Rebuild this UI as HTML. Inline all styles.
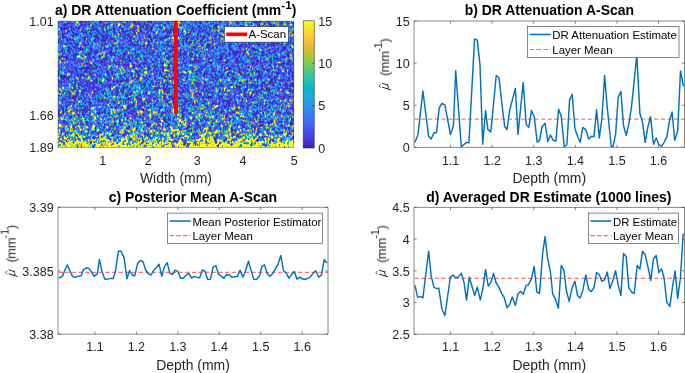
<!DOCTYPE html>
<html><head><meta charset="utf-8"><style>
html,body{margin:0;padding:0;background:#fff;width:685px;height:373px;overflow:hidden}
#hmw{position:absolute;left:58px;top:21px;width:236px;height:127px;overflow:hidden;background:linear-gradient(to bottom,rgb(67,108,211) 0.0%,rgb(67,106,212) 6.3%,rgb(66,105,212) 12.7%,rgb(65,105,214) 19.0%,rgb(64,104,214) 25.4%,rgb(66,104,213) 31.7%,rgb(67,105,211) 38.1%,rgb(68,106,210) 44.4%,rgb(68,107,209) 50.8%,rgb(68,107,211) 57.1%,rgb(70,111,208) 63.5%,rgb(71,117,205) 69.8%,rgb(73,123,201) 76.2%,rgb(78,124,199) 82.5%,rgb(96,146,172) 88.9%,rgb(101,150,168) 89.7%,rgb(108,157,160) 90.5%,rgb(96,155,172) 91.3%,rgb(103,152,166) 92.1%,rgb(116,158,155) 92.9%,rgb(122,170,144) 93.7%,rgb(126,172,140) 94.4%,rgb(136,180,128) 95.2%,rgb(163,193,102) 96.0%,rgb(162,198,103) 96.8%,rgb(184,207,82) 97.6%,rgb(186,211,77) 98.4%,rgb(206,225,60) 99.2%,rgb(238,243,31) 100.0%)}
#hm{position:absolute;left:-2px;top:-2px;width:240px;height:131px;filter:blur(0.35px)}
svg{position:absolute;left:0;top:0}
text{font-family:"Liberation Sans",sans-serif;filter:blur(0.25px)}
</style></head><body>
<div id="hmw"><canvas id="hm" width="240" height="131"></canvas></div>
<svg width="685" height="373">
<defs>
<linearGradient id="parula" x1="0" y1="1" x2="0" y2="0"><stop offset="0.0000" stop-color="rgb(62,38,168)"/><stop offset="0.0159" stop-color="rgb(64,42,180)"/><stop offset="0.0317" stop-color="rgb(66,46,192)"/><stop offset="0.0476" stop-color="rgb(67,50,203)"/><stop offset="0.0635" stop-color="rgb(69,55,213)"/><stop offset="0.0794" stop-color="rgb(70,60,222)"/><stop offset="0.0952" stop-color="rgb(71,65,229)"/><stop offset="0.1111" stop-color="rgb(71,71,235)"/><stop offset="0.1270" stop-color="rgb(72,77,240)"/><stop offset="0.1429" stop-color="rgb(72,82,244)"/><stop offset="0.1587" stop-color="rgb(71,88,248)"/><stop offset="0.1746" stop-color="rgb(70,94,251)"/><stop offset="0.1905" stop-color="rgb(69,99,253)"/><stop offset="0.2063" stop-color="rgb(66,105,254)"/><stop offset="0.2222" stop-color="rgb(62,111,255)"/><stop offset="0.2381" stop-color="rgb(56,117,254)"/><stop offset="0.2540" stop-color="rgb(50,124,252)"/><stop offset="0.2698" stop-color="rgb(47,129,250)"/><stop offset="0.2857" stop-color="rgb(46,135,247)"/><stop offset="0.3016" stop-color="rgb(45,140,243)"/><stop offset="0.3175" stop-color="rgb(43,145,239)"/><stop offset="0.3333" stop-color="rgb(39,151,235)"/><stop offset="0.3492" stop-color="rgb(37,155,232)"/><stop offset="0.3651" stop-color="rgb(35,160,229)"/><stop offset="0.3810" stop-color="rgb(32,165,227)"/><stop offset="0.3968" stop-color="rgb(28,169,223)"/><stop offset="0.4127" stop-color="rgb(24,173,219)"/><stop offset="0.4286" stop-color="rgb(18,177,214)"/><stop offset="0.4444" stop-color="rgb(8,181,208)"/><stop offset="0.4603" stop-color="rgb(1,184,202)"/><stop offset="0.4762" stop-color="rgb(2,186,195)"/><stop offset="0.4921" stop-color="rgb(11,189,189)"/><stop offset="0.5079" stop-color="rgb(25,191,182)"/><stop offset="0.5238" stop-color="rgb(36,193,174)"/><stop offset="0.5397" stop-color="rgb(44,196,167)"/><stop offset="0.5556" stop-color="rgb(49,198,159)"/><stop offset="0.5714" stop-color="rgb(55,200,151)"/><stop offset="0.5873" stop-color="rgb(63,202,142)"/><stop offset="0.6032" stop-color="rgb(74,203,132)"/><stop offset="0.6190" stop-color="rgb(87,204,122)"/><stop offset="0.6349" stop-color="rgb(100,205,111)"/><stop offset="0.6508" stop-color="rgb(114,205,100)"/><stop offset="0.6667" stop-color="rgb(129,204,89)"/><stop offset="0.6825" stop-color="rgb(143,203,78)"/><stop offset="0.6984" stop-color="rgb(157,201,67)"/><stop offset="0.7143" stop-color="rgb(171,199,57)"/><stop offset="0.7302" stop-color="rgb(185,196,49)"/><stop offset="0.7460" stop-color="rgb(197,194,42)"/><stop offset="0.7619" stop-color="rgb(209,191,39)"/><stop offset="0.7778" stop-color="rgb(220,189,41)"/><stop offset="0.7937" stop-color="rgb(230,187,45)"/><stop offset="0.8095" stop-color="rgb(240,186,54)"/><stop offset="0.8254" stop-color="rgb(248,186,61)"/><stop offset="0.8413" stop-color="rgb(254,190,60)"/><stop offset="0.8571" stop-color="rgb(254,195,56)"/><stop offset="0.8730" stop-color="rgb(254,201,52)"/><stop offset="0.8889" stop-color="rgb(252,207,48)"/><stop offset="0.9048" stop-color="rgb(250,214,45)"/><stop offset="0.9206" stop-color="rgb(247,220,42)"/><stop offset="0.9365" stop-color="rgb(245,227,39)"/><stop offset="0.9524" stop-color="rgb(245,233,36)"/><stop offset="0.9683" stop-color="rgb(246,239,32)"/><stop offset="0.9841" stop-color="rgb(247,245,27)"/><stop offset="1.0000" stop-color="rgb(249,251,21)"/></linearGradient>
<clipPath id="cb"><rect x="414.0" y="21.0" width="270.5" height="126.4"/></clipPath>
<clipPath id="cc"><rect x="58.0" y="207.3" width="270.0" height="126.89999999999998"/></clipPath>
<clipPath id="cd"><rect x="414.0" y="207.4" width="270.5" height="126.79999999999998"/></clipPath>
</defs>
<rect x="174" y="20.8" width="3.7" height="93.2" fill="#ff0000"/>
<path d="M57.9 21.1H293.7V147.39999999999998H57.9Z" fill="none" stroke="#262626" stroke-opacity="0.55" stroke-width="0.6"/>
<rect x="303.2" y="20.8" width="11.0" height="127.2" fill="url(#parula)" stroke="#262626" stroke-width="0.55"/>
<text x="318.30" y="152.85" font-size="12.5" fill="#262626">0</text>
<path d="M311.70 105.60H314.20" stroke="#262626" stroke-width="0.55"/>
<text x="318.30" y="110.45" font-size="12.5" fill="#262626">5</text>
<path d="M311.70 63.20H314.20" stroke="#262626" stroke-width="0.55"/>
<text x="318.30" y="68.05" font-size="12.5" fill="#262626">10</text>
<text x="318.30" y="25.65" font-size="12.5" fill="#262626">15</text>
<text x="102.70" y="164.60" font-size="12.5" text-anchor="middle" fill="#262626">1</text>
<text x="148.30" y="164.60" font-size="12.5" text-anchor="middle" fill="#262626">2</text>
<text x="197.30" y="164.60" font-size="12.5" text-anchor="middle" fill="#262626">3</text>
<text x="243.00" y="164.60" font-size="12.5" text-anchor="middle" fill="#262626">4</text>
<text x="294.20" y="164.60" font-size="12.5" text-anchor="middle" fill="#262626">5</text>
<text x="53.60" y="26.05" font-size="12.5" text-anchor="end" fill="#262626">1.01</text>
<text x="53.60" y="119.65" font-size="12.5" text-anchor="end" fill="#262626">1.66</text>
<text x="53.60" y="152.45" font-size="12.5" text-anchor="end" fill="#262626">1.89</text>
<text x="175.90" y="183.00" font-size="13.95" text-anchor="middle" fill="#262626">Width (mm)</text>
<text x="175.60" y="15.40" font-size="13.95" text-anchor="middle" font-weight="bold" fill="#000">a) DR Attenuation Coefficient (mm<tspan font-size="11.7" dy="-6.15">-1</tspan><tspan dy="6.15">)</tspan></text>
<rect x="224.4" y="26.7" width="63.9" height="15.4" fill="#fff" stroke="#262626" stroke-width="0.55"/>
<path d="M226.20 34.30H247.20" stroke="#ff0000" stroke-width="3.6"/>
<text x="248.50" y="38.40" font-size="11.45" fill="#000">A-Scan</text>
<path d="M414.0 21.0H684.5V147.4H414.0Z" fill="none" stroke="#262626" stroke-width="0.55"/>
<path d="M450.60 147.40V144.70" stroke="#262626" stroke-width="0.55"/>
<path d="M450.60 21.00V23.70" stroke="#262626" stroke-width="0.55"/>
<text x="450.60" y="164.60" font-size="12.5" text-anchor="middle" fill="#262626">1.1</text>
<path d="M492.18 147.40V144.70" stroke="#262626" stroke-width="0.55"/>
<path d="M492.18 21.00V23.70" stroke="#262626" stroke-width="0.55"/>
<text x="492.18" y="164.60" font-size="12.5" text-anchor="middle" fill="#262626">1.2</text>
<path d="M533.76 147.40V144.70" stroke="#262626" stroke-width="0.55"/>
<path d="M533.76 21.00V23.70" stroke="#262626" stroke-width="0.55"/>
<text x="533.76" y="164.60" font-size="12.5" text-anchor="middle" fill="#262626">1.3</text>
<path d="M575.34 147.40V144.70" stroke="#262626" stroke-width="0.55"/>
<path d="M575.34 21.00V23.70" stroke="#262626" stroke-width="0.55"/>
<text x="575.34" y="164.60" font-size="12.5" text-anchor="middle" fill="#262626">1.4</text>
<path d="M616.92 147.40V144.70" stroke="#262626" stroke-width="0.55"/>
<path d="M616.92 21.00V23.70" stroke="#262626" stroke-width="0.55"/>
<text x="616.92" y="164.60" font-size="12.5" text-anchor="middle" fill="#262626">1.5</text>
<path d="M658.50 147.40V144.70" stroke="#262626" stroke-width="0.55"/>
<path d="M658.50 21.00V23.70" stroke="#262626" stroke-width="0.55"/>
<text x="658.50" y="164.60" font-size="12.5" text-anchor="middle" fill="#262626">1.6</text>
<path d="M414.00 147.40H416.70" stroke="#262626" stroke-width="0.55"/>
<path d="M684.50 147.40H681.80" stroke="#262626" stroke-width="0.55"/>
<text x="409.60" y="152.25" font-size="12.5" text-anchor="end" fill="#262626">0</text>
<path d="M414.00 105.27H416.70" stroke="#262626" stroke-width="0.55"/>
<path d="M684.50 105.27H681.80" stroke="#262626" stroke-width="0.55"/>
<text x="409.60" y="110.12" font-size="12.5" text-anchor="end" fill="#262626">5</text>
<path d="M414.00 63.13H416.70" stroke="#262626" stroke-width="0.55"/>
<path d="M684.50 63.13H681.80" stroke="#262626" stroke-width="0.55"/>
<text x="409.60" y="67.98" font-size="12.5" text-anchor="end" fill="#262626">10</text>
<path d="M414.00 21.00H416.70" stroke="#262626" stroke-width="0.55"/>
<path d="M684.50 21.00H681.80" stroke="#262626" stroke-width="0.55"/>
<text x="409.60" y="25.85" font-size="12.5" text-anchor="end" fill="#262626">15</text>
<path d="M414.80 119.15H684.50" stroke="#ff0000" stroke-opacity="0.55" stroke-width="1.3" stroke-dasharray="4.2 2.45"/>
<polyline points="414.9,142.6 418.0,134.6 422.9,91.0 428.6,136.2 431.2,138.9 433.9,132.7 436.5,132.7 439.2,107.9 441.9,103.5 444.9,104.9 450.4,134.4 453.4,126.1 455.7,70.7 461.3,146.8 466.6,142.4 468.9,142.9 474.6,38.9 477.3,40.1 480.0,64.9 482.7,144.2 485.6,110.5 487.9,129.7 490.9,131.8 496.2,75.5 499.0,77.8 502.9,112.3 504.7,126.5 507.0,129.7 509.6,110.5 515.3,88.4 518.0,134.4 523.2,82.6 526.2,124.4 528.8,127.4 531.5,110.5 534.2,116.7 537.2,142.1 539.5,140.6 542.1,126.5 545.1,123.3 547.8,141.5 550.4,135.0 553.3,140.3 555.9,141.0 558.6,109.3 561.2,115.9 564.2,146.8 566.9,144.7 569.6,99.9 572.2,94.3 574.9,128.2 577.5,136.2 580.2,142.1 582.8,127.4 585.8,129.7 588.7,138.9 591.3,136.2 594.0,136.6 596.6,109.7 599.3,138.0 601.9,118.5 604.6,75.5 607.3,108.0 611.2,146.0 612.9,146.8 615.6,134.4 618.2,97.3 620.9,91.4 623.5,125.6 626.2,135.3 628.8,124.4 631.5,107.0 636.8,55.0 639.9,113.2 642.5,122.1 645.2,142.4 647.8,127.4 650.5,116.7 653.5,144.2 656.2,138.0 658.8,144.2 661.5,146.3 664.1,142.4 666.8,137.1 669.4,121.2 672.1,112.0 674.7,140.3 677.7,130.9 680.5,70.9 683.5,86.4" fill="none" stroke="#0072BD" stroke-width="1.45" stroke-linejoin="round" clip-path="url(#cb)"/>
<rect x="527.3" y="26.4" width="151.70" height="31.00" fill="#fff" stroke="#262626" stroke-width="0.55"/>
<path d="M530.40 34.50H550.30" stroke="#0072BD" stroke-width="1.45" stroke-linecap="round"/>
<path d="M529.70 49.40H551.00" stroke="#ff0000" stroke-opacity="0.6" stroke-width="1.05" stroke-dasharray="4.5 2.3"/>
<text x="552.30" y="39.30" font-size="11.45" fill="#000">DR Attenuation Estimate</text>
<text x="552.30" y="54.00" font-size="11.45" fill="#000">Layer Mean</text>
<text x="549.30" y="183.00" font-size="13.95" text-anchor="middle" fill="#262626">Depth (mm)</text>
<text x="549.35" y="15.40" font-size="13.95" text-anchor="middle" font-weight="bold" fill="#000">b) DR Attenuation A-Scan</text>
<g transform="translate(388.2,90.6) rotate(-90)" fill="#262626"><path d="M3.5 -6.1L0.6 3.0M1.4 -0.7C2.1 0.5 4.4 0.4 5.6 -1.0M7.4 -6.1L5.7 -0.7Q5.6 0.3 6.6 -0.3" fill="none" stroke="#262626" stroke-width="1.0"/><path d="M3.0 -7.3L4.7 -9.4L6.4 -7.3" fill="none" stroke="#262626" stroke-width="0.7"/><g transform="translate(0,0.9)"><text x="14.7" y="0" font-size="12.85">(</text><text x="18.3" y="0" font-size="12.85">mm</text><text x="38.7" y="-7.1" font-size="11.0">-1</text><text x="48.0" y="0" font-size="12.85">)</text></g></g>
<path d="M58.0 207.3H328.0V334.2H58.0Z" fill="none" stroke="#262626" stroke-width="0.55"/>
<path d="M94.92 334.20V331.50" stroke="#262626" stroke-width="0.55"/>
<path d="M94.92 207.30V210.00" stroke="#262626" stroke-width="0.55"/>
<text x="94.92" y="351.20" font-size="12.5" text-anchor="middle" fill="#262626">1.1</text>
<path d="M136.38 334.20V331.50" stroke="#262626" stroke-width="0.55"/>
<path d="M136.38 207.30V210.00" stroke="#262626" stroke-width="0.55"/>
<text x="136.38" y="351.20" font-size="12.5" text-anchor="middle" fill="#262626">1.2</text>
<path d="M177.84 334.20V331.50" stroke="#262626" stroke-width="0.55"/>
<path d="M177.84 207.30V210.00" stroke="#262626" stroke-width="0.55"/>
<text x="177.84" y="351.20" font-size="12.5" text-anchor="middle" fill="#262626">1.3</text>
<path d="M219.30 334.20V331.50" stroke="#262626" stroke-width="0.55"/>
<path d="M219.30 207.30V210.00" stroke="#262626" stroke-width="0.55"/>
<text x="219.30" y="351.20" font-size="12.5" text-anchor="middle" fill="#262626">1.4</text>
<path d="M260.76 334.20V331.50" stroke="#262626" stroke-width="0.55"/>
<path d="M260.76 207.30V210.00" stroke="#262626" stroke-width="0.55"/>
<text x="260.76" y="351.20" font-size="12.5" text-anchor="middle" fill="#262626">1.5</text>
<path d="M302.22 334.20V331.50" stroke="#262626" stroke-width="0.55"/>
<path d="M302.22 207.30V210.00" stroke="#262626" stroke-width="0.55"/>
<text x="302.22" y="351.20" font-size="12.5" text-anchor="middle" fill="#262626">1.6</text>
<path d="M58.00 334.20H60.70" stroke="#262626" stroke-width="0.55"/>
<path d="M328.00 334.20H325.30" stroke="#262626" stroke-width="0.55"/>
<text x="53.60" y="339.05" font-size="12.5" text-anchor="end" fill="#262626">3.38</text>
<path d="M58.00 270.90H60.70" stroke="#262626" stroke-width="0.55"/>
<path d="M328.00 270.90H325.30" stroke="#262626" stroke-width="0.55"/>
<text x="53.60" y="275.75" font-size="12.5" text-anchor="end" fill="#262626">3.385</text>
<path d="M58.00 207.30H60.70" stroke="#262626" stroke-width="0.55"/>
<path d="M328.00 207.30H325.30" stroke="#262626" stroke-width="0.55"/>
<text x="53.60" y="212.15" font-size="12.5" text-anchor="end" fill="#262626">3.39</text>
<path d="M58.80 272.40H328.00" stroke="#ff0000" stroke-opacity="0.55" stroke-width="1.3" stroke-dasharray="4.2 2.45"/>
<polyline points="58.7,278.2 62.4,276.1 67.3,264.8 72.6,276.6 75.3,277.4 78.0,276.1 81.2,275.8 83.3,269.7 86.5,267.8 88.7,268.4 91.4,271.8 94.0,276.3 97.3,273.9 99.4,259.5 102.1,271.8 104.8,279.3 107.4,279.1 110.7,278.4 113.3,278.4 115.5,270.7 118.5,250.9 121.2,251.3 124.1,257.9 127.0,278.8 129.6,270.5 132.3,275.0 134.7,275.9 137.7,263.2 140.4,260.5 143.0,261.6 145.7,270.2 148.4,273.7 151.1,275.0 153.8,270.2 156.4,267.5 159.1,264.3 161.8,276.3 164.5,266.4 167.2,262.7 169.8,273.1 172.5,274.5 175.2,270.2 177.9,271.6 180.6,278.2 183.2,278.2 185.7,275.8 188.7,273.2 191.6,278.2 194.4,276.4 197.0,277.4 199.7,277.7 202.4,269.9 205.0,271.3 207.7,279.5 210.4,279.1 213.1,267.2 215.9,265.6 218.5,274.2 221.2,276.1 223.9,278.4 226.6,274.5 229.2,274.8 231.9,277.2 234.6,276.6 237.3,276.6 240.0,270.2 242.9,277.2 245.6,270.5 248.5,261.3 251.1,270.4 253.8,279.2 256.4,279.5 259.4,276.1 262.0,266.4 264.5,264.8 267.1,273.4 270.0,276.3 272.7,273.4 275.4,268.8 278.1,263.8 280.8,255.5 283.5,270.7 286.2,273.1 288.9,278.2 291.6,274.5 294.3,271.6 296.9,279.1 299.6,277.2 302.3,278.8 305.0,279.5 307.7,278.4 310.3,276.9 313.2,273.1 315.7,270.7 318.7,277.2 321.5,274.9 324.2,259.5 326.9,263.1" fill="none" stroke="#0072BD" stroke-width="1.45" stroke-linejoin="round" clip-path="url(#cc)"/>
<rect x="167.7" y="213.1" width="154.90" height="30.40" fill="#fff" stroke="#262626" stroke-width="0.55"/>
<path d="M170.20 221.00H190.10" stroke="#0072BD" stroke-width="1.45" stroke-linecap="round"/>
<path d="M169.50 235.60H190.80" stroke="#ff0000" stroke-opacity="0.6" stroke-width="1.05" stroke-dasharray="4.5 2.3"/>
<text x="192.40" y="225.80" font-size="11.45" fill="#000">Mean Posterior Estimator</text>
<text x="192.40" y="240.20" font-size="11.45" fill="#000">Layer Mean</text>
<text x="193.00" y="369.60" font-size="13.95" text-anchor="middle" fill="#262626">Depth (mm)</text>
<text x="192.90" y="202.30" font-size="13.95" text-anchor="middle" font-weight="bold" fill="#000">c) Posterior Mean A-Scan</text>
<g transform="translate(14.7,277.2) rotate(-90)" fill="#262626"><path d="M3.5 -6.1L0.6 3.0M1.4 -0.7C2.1 0.5 4.4 0.4 5.6 -1.0M7.4 -6.1L5.7 -0.7Q5.6 0.3 6.6 -0.3" fill="none" stroke="#262626" stroke-width="1.0"/><path d="M3.0 -7.3L4.7 -9.4L6.4 -7.3" fill="none" stroke="#262626" stroke-width="0.7"/><g transform="translate(0,0.9)"><text x="14.7" y="0" font-size="12.85">(</text><text x="18.3" y="0" font-size="12.85">mm</text><text x="38.7" y="-7.1" font-size="11.0">-1</text><text x="48.0" y="0" font-size="12.85">)</text></g></g>
<path d="M414.0 207.4H684.5V334.2H414.0Z" fill="none" stroke="#262626" stroke-width="0.55"/>
<path d="M450.60 334.20V331.50" stroke="#262626" stroke-width="0.55"/>
<path d="M450.60 207.40V210.10" stroke="#262626" stroke-width="0.55"/>
<text x="450.60" y="351.20" font-size="12.5" text-anchor="middle" fill="#262626">1.1</text>
<path d="M492.18 334.20V331.50" stroke="#262626" stroke-width="0.55"/>
<path d="M492.18 207.40V210.10" stroke="#262626" stroke-width="0.55"/>
<text x="492.18" y="351.20" font-size="12.5" text-anchor="middle" fill="#262626">1.2</text>
<path d="M533.76 334.20V331.50" stroke="#262626" stroke-width="0.55"/>
<path d="M533.76 207.40V210.10" stroke="#262626" stroke-width="0.55"/>
<text x="533.76" y="351.20" font-size="12.5" text-anchor="middle" fill="#262626">1.3</text>
<path d="M575.34 334.20V331.50" stroke="#262626" stroke-width="0.55"/>
<path d="M575.34 207.40V210.10" stroke="#262626" stroke-width="0.55"/>
<text x="575.34" y="351.20" font-size="12.5" text-anchor="middle" fill="#262626">1.4</text>
<path d="M616.92 334.20V331.50" stroke="#262626" stroke-width="0.55"/>
<path d="M616.92 207.40V210.10" stroke="#262626" stroke-width="0.55"/>
<text x="616.92" y="351.20" font-size="12.5" text-anchor="middle" fill="#262626">1.5</text>
<path d="M658.50 334.20V331.50" stroke="#262626" stroke-width="0.55"/>
<path d="M658.50 207.40V210.10" stroke="#262626" stroke-width="0.55"/>
<text x="658.50" y="351.20" font-size="12.5" text-anchor="middle" fill="#262626">1.6</text>
<path d="M414.00 334.20H416.70" stroke="#262626" stroke-width="0.55"/>
<path d="M684.50 334.20H681.80" stroke="#262626" stroke-width="0.55"/>
<text x="409.60" y="339.05" font-size="12.5" text-anchor="end" fill="#262626">2.5</text>
<path d="M414.00 302.50H416.70" stroke="#262626" stroke-width="0.55"/>
<path d="M684.50 302.50H681.80" stroke="#262626" stroke-width="0.55"/>
<text x="409.60" y="307.35" font-size="12.5" text-anchor="end" fill="#262626">3</text>
<path d="M414.00 270.80H416.70" stroke="#262626" stroke-width="0.55"/>
<path d="M684.50 270.80H681.80" stroke="#262626" stroke-width="0.55"/>
<text x="409.60" y="275.65" font-size="12.5" text-anchor="end" fill="#262626">3.5</text>
<path d="M414.00 239.10H416.70" stroke="#262626" stroke-width="0.55"/>
<path d="M684.50 239.10H681.80" stroke="#262626" stroke-width="0.55"/>
<text x="409.60" y="243.95" font-size="12.5" text-anchor="end" fill="#262626">4</text>
<path d="M414.00 207.40H416.70" stroke="#262626" stroke-width="0.55"/>
<path d="M684.50 207.40H681.80" stroke="#262626" stroke-width="0.55"/>
<text x="409.60" y="212.25" font-size="12.5" text-anchor="end" fill="#262626">4.5</text>
<path d="M414.80 278.30H684.50" stroke="#ff0000" stroke-opacity="0.55" stroke-width="1.3" stroke-dasharray="4.2 2.45"/>
<polyline points="415.0,285.4 417.6,297.1 420.3,296.6 422.9,297.8 428.6,251.3 431.2,276.2 433.9,287.2 436.5,288.6 438.8,288.1 441.9,309.0 444.9,315.5 450.4,277.1 453.0,275.0 455.7,277.7 458.3,277.1 461.3,273.1 464.0,282.4 466.6,300.1 469.3,277.1 471.9,286.0 474.6,295.4 477.3,287.2 480.3,300.1 482.9,288.6 485.6,269.6 488.2,286.0 490.9,282.4 493.5,273.5 496.2,283.0 498.8,286.9 501.5,293.1 504.2,297.5 507.0,307.7 509.6,304.6 512.3,297.0 515.3,305.4 518.0,293.9 520.6,291.3 523.3,294.3 526.2,285.1 528.5,284.7 531.5,278.9 534.2,266.4 536.8,291.8 539.5,293.6 542.7,253.0 545.1,236.6 547.6,258.4 550.4,271.7 552.7,293.9 555.4,299.2 558.4,308.1 561.2,265.5 563.9,270.2 566.5,291.3 569.2,301.4 571.9,288.6 574.9,281.2 577.5,295.4 580.2,298.0 582.8,290.4 585.8,275.0 588.7,289.5 591.3,291.6 594.0,287.7 596.6,272.6 599.3,274.8 601.9,281.5 604.6,279.8 607.3,272.1 609.9,288.6 612.6,281.5 615.6,270.7 618.2,285.1 620.9,295.4 623.5,253.6 626.2,256.4 628.8,287.7 631.5,291.8 634.2,293.6 637.2,265.5 639.9,269.1 642.5,251.3 645.2,254.8 648.2,268.0 650.8,280.5 653.5,258.9 656.2,255.4 658.8,272.6 661.5,268.8 664.1,278.0 666.8,302.4 669.8,306.3 672.4,287.7 675.1,270.9 677.7,298.4 680.4,278.0 683.2,233.6" fill="none" stroke="#0072BD" stroke-width="1.45" stroke-linejoin="round" clip-path="url(#cd)"/>
<rect x="588.4" y="213.1" width="90.20" height="30.40" fill="#fff" stroke="#262626" stroke-width="0.55"/>
<path d="M590.90 221.00H610.80" stroke="#0072BD" stroke-width="1.45" stroke-linecap="round"/>
<path d="M590.20 235.60H611.50" stroke="#ff0000" stroke-opacity="0.6" stroke-width="1.05" stroke-dasharray="4.5 2.3"/>
<text x="612.90" y="225.80" font-size="11.45" fill="#000">DR Estimate</text>
<text x="612.90" y="240.20" font-size="11.45" fill="#000">Layer Mean</text>
<text x="549.30" y="369.60" font-size="13.95" text-anchor="middle" fill="#262626">Depth (mm)</text>
<text x="548.85" y="202.30" font-size="13.95" text-anchor="middle" font-weight="bold" fill="#000">d) Averaged DR Estimate (1000 lines)</text>
<g transform="translate(385.1,277.5) rotate(-90)" fill="#262626"><path d="M3.5 -6.1L0.6 3.0M1.4 -0.7C2.1 0.5 4.4 0.4 5.6 -1.0M7.4 -6.1L5.7 -0.7Q5.6 0.3 6.6 -0.3" fill="none" stroke="#262626" stroke-width="1.0"/><path d="M3.0 -7.3L4.7 -9.4L6.4 -7.3" fill="none" stroke="#262626" stroke-width="0.7"/><g transform="translate(0,0.9)"><text x="14.7" y="0" font-size="12.85">(</text><text x="18.3" y="0" font-size="12.85">mm</text><text x="38.7" y="-7.1" font-size="11.0">-1</text><text x="48.0" y="0" font-size="12.85">)</text></g></g>
</svg>
<script>
(function(){
var s="QVBEHSbPNUBAAABTHVcNHiCADpdEGJJIFrci12MdFDFAHpMuEGGIHGFPWO2YQLX4PBP/9OCABEBMRT//TwcCAR/XBHNMDCDBGBCHIL9SHSQO/ypMAAAKaDHZGBV/chhydVNMDIFDBPPTcdBTVGFKBABSaEABZhQBgl7AAV/UnJKSCBYQGR//FerEHJCEESvWSLESJHm7JDBLfoST22MMABRWMDJCACAOGMWoEBm/HGis/zXTFGCGGTePFWEBNBCLIXcNPhYHAGHCDOKTH6eQtOIpJJTDDKIVEECDHHPaMMbPWnQPDES2SIFCCHEJLIMOYTNMAZ/9KVSKHFEBEEFHIJeLCMUgsnvaACDCHCFMEFuXDCININJVHPGIEcNONXIKQJGaGGHDGFADRPJAEfYBCHtOVCCOGQqOPvtLLMZFICAAFJdcgORWFBOVHCCGQFGa//TbCBIORNICBGJMLJNSDEq+RFyw/2cDKBLmFFIQOwhESOKQV1TI/1kMABFFHNCRHVRQgJR2YYlBABIeJKGFHIXWTEOPGlLEDJJYcPFCGUITMDCDXEBRLRRiKcaCDECBNOMJeSJaQKNQOQGDBbLEHJKNhv3kKALGCLRhajLJQdLFRQSKIJNgMLGAIVGRgGIFDZTBDEctNFLIQ3/gXvYDHGMIJHBBJWlhbTpJCBDBFCBBDCORdVDFFDIVYkVCUbcMRGGXWPPFON6NxsJBYFCNOGLWWsWEEKHNNRHa//mEBEEOEIDJFJGPfRROZkSAABDRLaoYOJNKfOVOBYTUIHHfqbKDRKLTMCBCOEBDRKGSBNaDBDDCcSMELJDKJDTNQhHBBUZNGcMLv///oCPIGRViSWQIOWIBOMIDBBVnQJIFZjRJMBViNeTDFJNkLIIIJf/nNddFDCBQQgLHVknVYYoGQNCABECCCNaODQOBGIMdartKrQbNHCEMhYKGNNhGDHACgKDMUNOJFKEABEFBCNKeWwwSICDrGGQHEGNZceGDNSOFIPEJMTKFJBFjlGNUJXm3UQFCGQFGPGPhlLBACHCALLNHAQLRPJRKQGHGFKFFCDMSPVWIBFNXKcKHPTyjROIMKNHXHSgPHMLGFJVFBCPWgQZSUTEEICVNLbMJVRMNNTEPGhowQeiMKBAPbdOMNoZLLbQBQoLFGCGSfp+QAJkFGFEVbgxmlTgECCEM7VLHHGgcCBAIFEOZMRGGACCCKJQFFaM4aLkmDCFKEKGFBCriJXJGFFYLGVQCEJABFGR/zGHcFQ//meRBAKHSPGMl/kHCBKICCKNEBHDDGaiZNDIXhWPJJtZHDDSSHTQbfPIQXlxODFSHPoGIDDTZScQJGOdTMXJHcLeZIUFGWJLCBFGKJpUQRaLHFnZUQgYYWDLZUZaSM/kYHNLDO0SYMCEGZj8PBNtmHDBBRFElfd3KFNMa/yaFJU//XICKCEMaUTIDABJQeOEIIREerTTNCEIDDFFaGD7TDGJZIFNDCOSABJBPZJT/hHHPFR//JdkcAIOGGKmi4QUVP2aHBGIFLCGCBLRSDDNiszYDH/OHCDQifZNFgTSd3rkIBDWLYzHIRFRJIoWENJIBOcKIMIRIDhYWvKCCAIVNI5hddJCCPaHOUTHPZNVPBGEDRxi/NIdYv8YVlEABGSGEReWSIFDAFBAObnpICKKJZQPUSmqtKGECcfPJRJQLBGKFOQBBMMOGJkJFGJOHDHSfWFkJEBJMQPLHNIFCJVCeoHSaUGSHTkSHBQQzJJPCJN/t5KEGR+qJEBCEnFEGCPCGGRJUOMQCFQKpTIOtaJbDNGGHih/SObcTVmNMULNHDNYfoIEAIQKFDHMIGNUYjDBBCJ/uVsgcPIHHeLBIcQDDVMJoEABDRJGaTPiUWFKb9SADCDBGlLBFhIBCFBABCLiLERMDIMIQOPFMHFEEnSLLGBOIEJECDbECJGeIBDCCQWJEIZardJVPBCPEEOMhbEBKZJHcpOhXMCNHfdJCCMYMZXPENIkkYECGEbyFHFDCdQBBGSBBDUWSKGNGJBG3jULTZPUEKGCJWYwp0/lWPaNJLFKcDBJRPHDCILOMGGDWKBGZUEIEEG/lSjkZHEHGDJJHHHJDLFCSLABDWSLalbFEOBBS8yJDCDFVjOGFyRBKSJSEDU7/gVdHEOIOKMDOQMQPOMjoDAFCBBCEDiUBEEFMEECBLVIEMWX/qVVTCHQDDGdtgFBQvLKciSZJLABKRJNGJFFBReRTmhbKIDFLFetFEQZIIHCBPKAAChsVNOhHCAJn6aFJiJEGNFGMFHKfgvUYZYNVYCIGCESFJIJKFHURMLBaeCAIMIQJCHpfKUYQEIFEBGiRFJMDEGBRnEAAORFGO7CBrTCV/wUHHEH0bZJBNGBaiSjJFYenoTWDEeJIQXGgjhZOAG+/LADCBBPIJfPAGECOSQDNsOFHDLqdIYLFCAFDGHcVRRCIsgKKRCFGRBBPNPJGaFBDofJSSbGFEDFDKyrIBIkZIDCDNFAAL3tMPTvPQPSUrGCGQQDDEAEIGFDNoOLYqNMPcOpDDEcHFWPFHEGHHHDNkEHQcLOIFIm7MQNNEGKHGPxPGOFDBDHWVKFHEFEAHnEDZ8JXQPGBCABSKNIBHFB5eHUHFPTKXTJFH3GESfeak/PCDFaXLEFPIWyHDGMCLPGJKICgxIFMHEfECLCCFCMKBAHEQVCDboDBRFGKNCDdPWLJ5OIFXPHEEHBMCCFOJx/JACSXQLJKHFBAUWbIRbUNPZYHLADGCIBHJAAJSFBJjICS/gINbbPBHBLLJWLBNKCCDHPOQBHlpQpjfcwoFDEDBHIECIuYSTJBDEMMLOIMQTRKVHEXJXHZBEPBBBGUPpjFLJDQJMeEGGIKFHFDEMLNGUXTjVNKWGGKdNBRNkbDDBJKDMXYNCIRRDCFKBFMiXGPfNmeGBEKiQJBGcDCKOYjTCDQYZHKXLEAABFBMNErRCBRONvYABRJN0gBCOPBKGNVr2IDMQLBDFJDCDCJdAAEeKBUUSFr/8DFePBFVBDMZWGBDFFHQHJLPFMXXTWaFKzVCDFDCECEBEegiRIBPLJTaPXNVSLMOOLOCBCPBGqNCGhcebhOYdHFFfwVIGGRHGDADFTNBPXVPBZPgIFRnZDPKOIEOILiBCRILKQOJHJDCBBSfOCSdHJLSHDGONRBCMKJWdeTQFDCQbKBGRJCCDZTTPIWeDAJ/EDLCJFDEqHBDpTJLFCT/yLFTPMDLZGBCDCFgBBDhXAVRQLUg/TK2KCNZNLMWRGFGHQQWEDCHNNGPTLJCDXbRVRGRBAHELqKgUCBEJNgYONUSJECCHYMDBEIAJ/4ag4OLPKJZXOalZrxKGKTMMEAAGUODluWDBaU/VIKMNHDCFDFVWdaGAECDGJHgzWCDOBLVDBGTQRJPHFDEEMOQHGLGTcQwKECFcxHEJIGNGbPDNIFMJCD4bDEJTDJFMDHKrHzSFJQ/OQZkUQTfwFCDCCX0ICFqlAOXGFFb0RJOBCPJzoXTGCfUXiSJPFBBEPFJMSNGDPWo2nTaDAEHg/OXJAACNToPUHuJAHBBEPbPDFSDExicx/TEFJSlL/8pFSbILe2HFLBADlKKxHJQRLNjSIQXFEAEPHcLOUHRAEHCBJUYnTMQQMCXHDCITbHDKiJCEFPSHCPJVTGmKFIKX8dGJJRKAFDBDJPEIGBLtRFLLFQIIJIGICjaDRZOEISUSQaYfJMMDXpbOEFRkCJMDHRphBBGCCVP9fjhBBWJgoVWRTDBAQJOLUFCLVDKQ7sSDBCDQOLSNBCPdQKDGQhBAIJRDBYVFCOJKSLOOegECOhYHTivGHNGhcXBDNCGFaDOrIY4jLFpXYNSOEBMXa/aZKGCAJKBEcZDVgXZGlGMOPDLMJDAAXQMFBBEGCDDMGHkWQoJGsREPIKBDRECEONGQIOPZMGPXNQkRMIDFDXiHNHFELXSRSUKDDFGHZTGJFDFQECIUOKSPABJLFObaIeZCGNCXNHIEdNDBMEVMGBBTMACHV4QCDJTREHQNDDSchYHKjZFIJXODALUNMNEVLDDGHRdMKXnHBFeOGHNgLJAHJJsRzZW4Pu/liR5nvKKOBBDEMYTWPgCBSPJXWMGTkZFAIDJOQDbIABAAPPVKBABLBAHQGOoab1TQgFEPFBCPdEEEHCIt4cJXGENXKYqFJEBBBWoJDBKJIJPJRQIAAAAKHSSPKCUJREXWGBEHFEDIWLQHHHOMMNEJCBCDTSSP1KJHEBChQBEEIQDDRgXSSHKDBBhNWXEBEEHOHEBEDLOKZRFcbPCDLDYQMMeEBDKOJDOcNHAGPg6iYzmcMmZTz2UTkSOKDDCHCDTTI5SKPacohXPMHJBCOEMJJMuuECBBENIJCABLBAUbGGFNTjfbTNQecDJKHJLCACTTZUKqSEIRHKkGSYBAAKWBBCCCGDDBDBBABCJlNa//sENO/RqJJKKKFLDGSFGFVQCDLOIGGACOKDLUoWOfDFL2fCOQMHIVShPT2VABBGzUKDBGHDDHQGFMJIBFaPFPh2LITDIHFEEFDIIKFDDbnHKhPmQVMRXJFNIWdTDLXMKbFFOPDDUGCQJNmpfrbVSUGGBMrLQGOeajMGEBBTNOJCEDBHTKCBBIJeRLMMViVCGGGETGAHTBDURqbCFSONsYSZVQBCLEMJEGVEDBFCBFZTp7SQ43vSNQ/kOUTRTAADNMRDDFUqDCLTXLECEfQCN04SJmIRLdLBbuvYPbSvNNuQAFGXZXQCHepYJLTbTlMBALVLGLu4PLGCIKGDBGVQUpIDACQMXbbTFNOLKZLFGYNDHKHGEofImjDCHBCGBDztPTLEITNFADYMHEL/oVEERBBLMFCBFHBPRDHFCFEMfcVIGZEELLKGSKAEUEHZePOEHcWRJTHKWqDCKcceJMNFBCGJPwucORDQZXdPZJXmOUEBKAACceWDIMBPNEKeRGCNMbbHJYYKBRLDILHEhlhfIKEhTYLBGVKHFItKHPiRLLQTVWICBIMGTVrcdLDBOMFBACUGImJGADOPRPcaPTYVFMFKPOEKZODFFLYGTkDCDHHCCDSVRQUDFVNJCQMCKFIwZGCCNGFNDDAABDFMJIPJIKCENonLENCGJTNTCDBDphTSoDFSDOOYEJNJBKHBCufMELFJMIFHi7WKHIHbXvUGNGKMUYDCTHDRpUVMhjCDOYnkCBCYVKLDGFNRDJeIGQICsIJfaUCCHQHBMRJGML+UBGWIDPqrdEGRFkeHQWKa/VHPMOKDCCRBDWFQNVVSORRSYIcVNRHKaKCJbaGDJGCLchLCDNRMcHCdOMWFWqMUHeJFVMKRLKIADDIVRRDCBDkVEFHXfMCGLpXcQLKWHQNPEKCDvSNGOBNaENgRFVeFAHGCHqXFFdLRZfaPhTMCCGDORlNCIDCLdLEHYDBJHCEBdTFGYeNMBBEgGCLMYTeUECgFDaKDnXHkyWIFEIYLXMIZMX/pGJPILc/gMGH8T//CCJDfkPJPJumQNFOCFIBDPTh2fOCFNLbEDGCEMMBCdbFGLGGIXdRFJGCRYJCTGLYWuOHRDPSFHSZRQfVDJVHPcKINEDeRHLJKSQtYu7RNcdSVLOHFFhEBNQMPHBU5JOpTI17PBCNTMlPGl/TJf1jRUICBCOIfeZcEVCBUiHECPHKKBCEArZGJnPGKBDKUDHmOWtyXHEMHUOUHIVDVNIQXJGSKSIPmEGcoTOGLXJWWCGOsJiyCCTJLMOPMMxkPRRTJHHHHFHLPiLCVrhOFCIAFNMCBSEGREHQHDFEFNBBBLRGECCMp/YFEDHaMCTjJIdpkSlJGSEINMEFHJwRCIUwkocLBLXOEIOONOUFBCJFbSFIvKcqML9/PHIclNVEHhcIJrTGNQmLFHkWVVRUHOKEaYbLBblJLCBJLqIEMSNcZILQLQjqEGSTHOV2boJHEEQDGBSbWHEEFTEJuOBHQNcHNQFFjECIGCHHHDCCCHNSCDRNFLOGBCBBKFDCDOEDs3cLDCFGQIFHBBGiZHOJZGDEJUKNBEXXBBBFTUqHDEDDECNREDZeaInqGSJGHCFDbMXWHIGJjVULBCUECGYOTIFEEHEBGGFFYKcnEBPvLBFNUXXDFTQOKdHENJJKABeeCNYTOLQKCLjKAXlJMNBNvoNVMJJYMJJGFhwaBBBKOGG9QNGCFGLFHBUXWJDBGPINgiROPEDDHEDCcIFFCKKDOMDABIFKDCqbDBFEACABKGFIGEECQfMODHKjbCDJGDd1TKNL69fUUMNeLGMcCJGKwScKHCCBIISGMGlcaGgYRcGCDCWQydKkTDCHMOgIGDVHNdaGZIBDDHCBBCKDICPGDFLPDACBHgmFCQQOEXLLGDCHABGGBMMRSRHIBMlWBRxcbUKUkiScPGEeXnHBCprFAAABWNHaFHIHMGOHEJSTcEDDMUiXIRTKDBACIHFFKHIGNu3SKPWACMGJJJtPBBJFCEBCFCJMQGMJKSMCKJQQu9QJDFeYKFbT5/ojRDIUULDCCGFX6PJ1mCHPbZNFNJ5ePPSGYbGGTGf59fLaIGDVHP3QIJEIJfMIUaHZLJIJEIdLGENDBKdPCDIDJZODEHUKHSPbGFLbDFCHFEBCEIHDERfjdeUgXZntIIBBHKF0rpFFatWCAABEPOFVPDDaTIMNEaROVECHTWoaEHJECHCERKECGFDOSTrbcSYDJROGPGHICDRPEIJITUdFSNKHEFHCaTMFa/iNIFDRiLRNOfaMHBCCMMHBDHDVeCCgdQKVKTJHGVrSLbfINMJefCPlXPDECQaoMFaSGFCBCLFFCHKZIOQdKfPHIHJcFGXGDVKCFXPEKDOaNRKcKLYIFORPFDBCCJegrMMKZfTNHWleQKCABOPQLTLzVTRFBBFMFDDTlCDfVSWaKYaXWEEJIOdZZOcLABNJLCIOMGDKLDLIraOPNNLKSKDHIUVvMUXGMmbBRVMCABDEWSHCJ/tPPSCTbSIGFcehSCBBEQYEGHDEDABCEVFYXQFCCJiQedlMNGGeUADHCMCEAHjjGAERMGEABTRdBACMUgrVMUIEDCIdIEIFFYEFQ4gNKBCbYWIQXesEPjuZPIJKHUou5DYTDQhHEhDJTMMEITgLOUV2EUWSMDMIDDJZcJNZNSaVIIfbiKCECKchfLRMCBgWYEP2OOQNHAAAMeHRbYJFHQSKTtMRIDOEGLDAPYPEABEHSYUKGhJSSXCofNNGJOdfCBCHJVNRMELGEABBDNIhtNIBAHkTNGOONJFQHDDEFLGRCQhRJCOYTdMCMeRaVEELkl/YJNKFEKeOKLLEIfHKLhMLFHGMUmOGQQZIUqdQRDEHaaSWhBMeJJzeJUEJJFTTPUcOfUIRJiTx/GLGNLIJLTZbGEOQLJGFjZDDBDSsWPVQKDbTuMKpIivNFBAABKDRr/jKHSnPPDBIMEMMELABdWDDBDIHTydgHDCEXPBPoHEBPIYeABJFJEHZIDbRFCTEGbRnWXZDAHKIEDFFRLIUHKcKHJJPBWrfVMsfPbHHTeGDURGIoRVLAPHLMSNTJHLBGhGHEIDQKpUKTdYDDCNRIICBDBFDSTONTBBKSEcWGKMMDFMMNbKETSGKcfLXkEPIjsOLFFMOPGNPNIDDscJHEEDLOLFIODNDLGFUYbFIOHGIACDGV/eGRRWDNCBKUVJEDGELmHCEEGTGETVOUBJGpGJKICJCMEbvEFFDeFJeIFRPOs/LJijoKMQCEIGFCCERWHThPUphZQCCASXbNJlaSXJSLOFHJZTVQGHGBiMeeUFTTOTBJRDLNFBKKtYGQFeKOOTMbOBADDQOMPYJJKQPRDEFKSPMJpQGGEBPVacdjTIIKFIQPWUYFGQPILZnRORKWYMJTFBEFEADEGNEGDCS4eGSOELgIiWHHdGBDHVKGMGOSKFCFPQINEKNOXlYBFDETDPUiBVjLKfMGDbaVHCDrNESHQRVwsbOFUMSJBGBHSJDBBCZaFmmw1UIULBAANEIBJRCQfXbJDFNL/YfXOPMDZVknLGHHYbNUKEKQDBILVJKQCRQtkOIcPECNOtQSHLCEBbMNDBISdSFDmWPFAFfMDUZNHOKJICPMDHOLQoTJaJTJFQXUKCOgEBGBCADDDMbKBC//aIHQOVmVeRSaXEBAKfiHICFLEBBIYNJKGHYWYGlIDFPIENVLCUsaZUIEKKJfJDIVPEJCBBPjVYPLWGHMADCEjLBBCNbj4kXy7SDEEDCBCDHCeZGMZpODACFP5MdefTJEIEHTHOGBGIJFIDCFDETkRDHQGam/pBCEFeaVLXCEFLHBAKDDBACN/JBACUiJDTQJBHNDEjIYOIKcEFRUQpdRLDCFHMPUFBFOHBDABDGOGKREDFkhtLBTQHDEJIMYbGDCKNHIGIFGOEHMMcffIQhpYDKCAFcDJZOEHb/ngQDQWHGRKNWOLCFAABPiTHRiJBCGBAEIdTEFOqlRvSFVaIEDMJFABEBKYeeTJYJBABJKJJRDMaHFIDBFedSCCDJGOHFJDYZgNEFRGRjwVCDHIQZhJFFGWbLADHEFAAIWrBBGBTbJmoJENZuJQZIRfTGjUEeUXdRNICDKIJEVNCGHIEBADQOHQYGBFOJW/eBGOFCBMQIScHCDHGELNMJDjVPFCal/OMUcQQLABL/SPKHUaaoQTOBPbTDHHWKHJBCDJVp1RDWfVOEGEAHiXVISTcdDFHF0sFFVsaDABZACIKTVEIFDCIVPCIGABLWJFHEKgciNISRNXMMIGOHHFGDIIEXKHKrhJEFLEHYgxlGDEEFFGNPVVCBJHjKCk/PEQPeNiUCFkmLQJCMLJNTFGCBIPIBPHBKZgGBBDeTBMRCGcSOJRVEMgKQOILNRIFCCKKFGVPLRdQFKGPemHMJJQeMCCFtwJELTWfdBGEBCFFAEFQNWSDDEY//9YOFMs/cKKBJYJCCbWKKBBXr0mBERNgMKY/PHOVEGFWEDBYVJCGGLDFhKBFHHhgkTTTPOSPhXKERSOIAEcNSJJZQODEDEBFOQeTDJOFNFSVJPUIBBFtGBHlLJTOJWiVACKfRWEGJOEJbFGCAMWEBMNDZhTFEKMYEBNLLOfbQEELUbjFEPGMjcKWNJanOEQXUeiHMaQFRlHHCBFEJHDGSoGJWHXqNAEHQDCCABLXMQPBGDNk9tuvXOq1QDEDFGEBBJQQKBL2tfTDIGCSZbwmSJRXEGGOGHCWUIBCXVGKRGDDPHLbaDIHGECLfUKIQLQGBGQJWfUgDBAHCLJEDPeLGJLMlCFKFEJSGEGNGCEdECFLKjOPGIGREGENLKKRaECBFfPIHTuWdYIEHSMGFFNMihRXPFEMMJKKDKDMixEPPSMYjMciKKfCLTBAPUDEDABGwKEPl6TRaKFUHAHX8VTNAAIPKGMDGGNVIRZs0huVQFFDDLTPFGb1NGobJFFABFMPVOVfOMIYIFCBDHDPRICBjIGSHHQO/XEQfFBDGHHLPIRcKHFNYTJEorSmIAAHFUrPMpfRiTEEmECPJKJcRZ7fEEHnHFEFRv2XPLCGBAFJPOPKOEAAESGHQSWOLLHHJFCEKXMEgcPRYNHKFDCFDEHLXuAFYEDLprjOCFbEDIACHGFNVGGL6XHautYGOIDcgNHRVOWNCEFIGEBFFGNJBMMNcSWKHKEDCHaiHMegPKMIEEDBADUFQzXXFaRYTGXBBFGEFHICTIFTITMMdQEIPNCDLWXOEHypICCJsqILfec2cGBNUYUJHWQQqeTOdECLKeLHGZseCDIKILJHTUsbUMCHdkSFULGDDBACCTsgOFIOFNRjSDBCDeHAXiaJMeQaKDGHEEGCNqBPWCIWerVHBFoBBFCDHFHdbTnntRGJbmUFEFbqTmiNBEKEIbJHDQDJFGPKENHDIMWGIRDULEWyOCKFFKECGJCIEJSHF/xKEZWHKNvbCFNBGSDBBBLVFDBGQVMLMgEBATbQHJLPQICOXTDQGQqajqMZkYSDCGIBPHQNFEQQHhJHJTcbDDBCCBDKGEPTPNIFq4INjDDLOHCNSk/hDBCNNdagNFBDELOBLXaMGpnTMKUKOOCAEQCYSMJhLiRHCFeGHbRCKHBOTGTZdHDBDQiFFFBCBn/HCNdNWkPQKPWMGKEEEFEGEJqLhUCPaTiYHBKECICABHFGLWYTFicEDKVFEGMbEKbDHHFDCBQaJEBKPb4eSTOLBPQ4nJABIPDRSPCUJObDc/peLJbONDGESNIUILeXDOGEDEDGAFECHBBSGKWYKMEISEDOdIKKFLBJMLUHCEEPOTpfKFAEEDGADFLMSsmMWNHDDaDABIBOOKDFBNFKBBNQIQNENaJPVGEUjKDBBOQEKNABCZ/NMQ2hRxMNTPXQESEGOEEQLXaHLGDUx7JIJJJHJMDBEDCHMMOGHQQEEFEFEGOQLeiJIDHScHGPfsEELXSIICBHFINeVKCCGLHLe4GGECYLsjohCDIQjFPip0HyMDCNGIRHCEACCEIEGEESUpfXMKCCBAG1VKOLCEDKHKOBCEKMQHPYDEBDBDGMIBOQadYRZEEBBTJBGNFFJKDCDKHXDBMSCEYf//xNFBESPCCFCWEHayIDThgTPHiZIOEFPScOGHBIVQMWkSHGCABOT/TDFYUPHJFHKGDOFFRBCLKIIECLDCTTGKKGLGGP/UDNXjSJIMDHEBABHDRJDJUKGYXCNNGCCBtcgUMNGNGHKENaQfYRGKCDNQYMDQDJLLHKHQOTdjYEGIQFBDXyjIPTCGNJMVQEFMcMaMISGWIHENMSRDIHEEHOOCBAHGCEPIEIIINNMKWZIGUUIFNaPLQDBAFNBABLDQBHagMBEWHITPEOHDHZJCKcONGPUcGT1CGOHBGEAMiCAFXeXkNEGGBFGHqDCRTNaGDIBDHMDBAAEBBJ/gGDCLNLGBERHBDOKEFGNSpLGbNCaMOGHR/7fZEBRXEEDCEGEHQBCfMHXXXiZxXKNWPOLKRQOIOEDEOXEKaPaLUWHTPKCGIRRfSJUKIGImWNWqhMKMIDBGJMJMBBLEDFXQHKJLHNUSXJDXbPFCFVGBCEBBNPBDDGEJFFaPFBBQREPaEMIIEPUCDZNShLEULalKopSOLDBEQSECCQWqVTFICEFKenareHtZVXBGSUJHKBABBU/4QBBYEDFBBJqGFgHKCDkZKBINEK2acHBT///dBCkZNJOSDCBCIAMoLCJQd+/4hPVdgOKHFJZIEDJafbNFRSWeZsUbEIDNdJIFHmNFGHKRNCCSVKDXKRGPWWRdENGEFVYNMDEOPRelDACPoeFGP2LDJFBEVZIXMCDKnIIFKGJJSIJMgXGLDFXIHKIGcFOqgbTLabHGEBEBDbWIAENECVDSOLPNm/qLSYSX+1CQVZOLIFAKEd//HACOIDECCQcOHTRHABeLGNDACLeLIGBKqgmOAJslOHHdFUMQMCarIGJNUUVHEMuxqUefGBDCIGJRgRKCEdWSEyj2WMIQNDEICRIIDDGDPDAMMMDqMQPPEG3ZNNHOQcWNMBAUxLLQGHEEnwJKhyGHiMDBCWXWVJOGKPDMTWOERfXZ6PDHHQQHKDICICemSGDBCDCCDCMFCPKEBFXEFPKNVNQHq3KEYhIRklJfOyxMHLEdFXjkIABfZIHHQDDQIauJAATZRfBAKFIVDIEBKUQCAJITGFLVHxjdaRSdQMIENSJGGNqllRggFCDEFJQIGPPDBSQTGsitfIFNBHu/CBGHHNLFYQHGegESILIJADpLdMRXbMHLVKDFeHKVmlSEPuDHTLIbXvMGDDXFETPJMcLdTdRIFFYVULJLFNMFHLGCFFKEDCDCCBAABBLKBBDFCSULNGZKQJJMqWNFILOTPOXxXo/bFDFTHHLPXDHs4hXRTAGZj/uVBAGdcVDEcKJWHTDALVXBAFKkLDOeIVYkbQOHIaRQWMJGFEKYlVMDENGKOReNGbWKGKCJLgcMQCIlGNwbBAGFSMUULdEBOZPGELJaJVJDsLLIRrOHVPDDJOOHIQFCDoEFLCDLQkUPUCJGDEDIJNOLNaMIHBdOFZLJHLYLGXECHMLFFEENJCBCPCBCCEHJLaXSGGVGKFJWcMGDIRQUPMJTxOM5gIJbSGCSucLJmfkITKOPTuQFCDFjsDGGGNMMKUCAss0LHHXbEBJaCWNWKEWDEfNUZRcJEDXsqWGEGEES3JGORmUODFEVNrsSTGLtHKHHEAFGWFOUHgIBCFJCELKXk1JGrJKDH0XMRJKDELEAACFOSrUQZHCDPNfaQDFrTDCHWMDCMFDHpHZKEHHGGCKIINHFCKecJHRhGCFHOIFHSdgdYJJLHHKUTQHELTIDJTaZTMGP/oNamfKcjZId0sVDDCOEGbYEEOXCEXPNRCLGBJJGHOBC//7/tUEMCCPyDGGJEJaPUFCQmejJDMnJFJBEEEVlfGFGFYQGAADHDXPHSQWlBDENOKNNWGFaHZFCJEJCIGCDOlUFSJQICGACcMSFFPCABDJhapldbeHDGN40IBI/ZDBENXMKFFCQXQicLKSGIBDDEFPJBCaQGJaLBBCFEGGUOVeWTBEHSKEZVRFACRQEBHQJGKRNPlLUcZCTbWUq//aKCBEDCTKNg2/QKeLDFLJJAFINFRDFvdHZhhGbLGPvCAGfRKQ8/QIVr//ZBJXCBJDCKHsgEJIFHaSKBCDBKXCBJKTKBOl7VTOV/VGWKMFDNLVIIJHCKWUBBFaLBDABMDLQQ/UDCCPXIHNVJRIGDV1/TBDuFDGCGMXRDDBPail0FDMPPILCBHILICOPSMOJDGEILFCLGHGFQHONRPDNHPCBGIHFAKECJaULW2SqjKHUFGJINkhOCCFKJRER///XHUDJLVLKAQTGBMThNMCBGMLuNKPhJEDjnONw//mSK//tLVdJFJNIIBSmCDCJaWNOJKUEflJBGHbGJ/sXFFDHlEQxjPICEFpXENYZgTgJDVwLGEBFGBKcbghRCFhGDJDLABBDEKLJPHBbEDUEDFSFnEBJfpY/hNJvrsPCDNEFNEFJHHJOMgaQPDBGDHUJGPhLMKLbQ5HDDMZEAOGTRtkge/kRGGOREHIBDjUDLEBMcccNb5+bTVEVwVDKCVUCABMqKOhGMMJcNUUPOYJNQFDGQ0aDDx/VaZYHBEdJEFQMACCJLKEGtWNEXTPVQJFHgpNCBLHGDBGljebIBBUgDFggNOhOPV9QTUIGPGDdoOLZEYsCCyONCBBDIHHCFaHpEBPQCDKF7CEJLQPYPHL/+/NDLWJGGFDGBCFEItuPMEABFMunEJJEGGVNW/WHBERDDOK/WxnLFkgHDJUPQPHACjcHZDBCNnsMVnQTaLKX8dGFLNOCCCM2kFGEZ2DIRXMBDUGCECCDDIHBToWFaKJJACVKIbRCAECFDKFBKPHDNHMZJHECdjXBAoaHDEKQKY/mECFUFDSHAGtYVXmQneEBEEHcTIFPEKNHFogYGBGURKJCDQWnHEKLIMKHFADNEEIAABL2XMOFNjRKECEJBCCABLVFSKLEGcghFEEFGLmGH3WHCCQSNIEei8VFCGQGDKhUUKIBK+PZfGCCRjZMziCQIDETcNDFLNMBMCGPHDEKS5POdXQBCHCACHULEGHBdfTOkfNTIFSbJRQBASMONYLCCVXBFBLRHEEEKaVBANQMNKUWMNwpRIIHCFGEBH7SRRuPXECCEILKCCIQIGGFWVMeMCNvRMJEDMQrTLRFDHNFAAIfBABAAAMOFDHELNIJSEEKCCVEBJKGncjBBGDRJFICIKPGGNYKEEUaiEBNZlfGDHQOFDNfKKTFM3CHyPCCJdQFSeGZGBBLPcEMPYQIUCFDBWvKTRuKKQTaHGHCBGNJURPCelQXllfbkMHSIXYDAUMFaYKCAFhCFJXGDBCTNXLIIFOLFTURUKPYlWMGCKEJPIMSULgFIBDDBGJHGIMIDBFGRKAHDIQyUKJKIRISNHUICDJOFDg0DAAAABCBAJLGTKEI/kMFEM/hWJEZ/1aDEQFbNMZBFHZOKFFRJDHV4KDLhmlOGIGufWCPKQYFDRDFVDBL9/aDCGEMQFIPauFCOaVyoSWEBHSQaDVGCDFVHQNJGJFKdVECQkGNLYhHaiNNOXleETHIWLSLCBFDFLDGKCDQGPFkdYfMABGKSWduybWLBHFLWKDIXKKEQDCEACHQWQSTCBIHHJADCKR2UJNNMMJHECOODHP+PMb0dBBBCYBBARWLbTIXquvDEalRVQLl5gSOJdQGDJnIZQk2bOCHIDDM/SHPXIWRNNDPbnDDE0jMCDMVBABK//lHCBCDKTWZZYBBLVdqngVcEBCfNACFFBDHGGKMQSGWjTBGeiKQUhgEGLZVUGv/OhUsYHQRIMDDDFBRiSQUEGGkpoUKCACGOKdfYMUUIQSNaDCBJMKMGCALCCIQQOWpXTQACRCFDVmwLKWIIRNMCFYMDJKdXHDVWFJBFjABDNoRsaIGDhdCCKHLFNUihVnhIHYICFWUjOi/jPDAACHJlMWdUIZFHIEDHOFCEfJTPHWXFDGU/oRJJPHDGLQiRSILDJRILRExiNGRMBDHGKJDLCDLGSe/jJBJr5mnehxQQHIPSWdXQ+p4gBEQHFKICCUZuwXaMWghzyLDDCACMCYttkowtlcLwMHCHLS/XHFgKGKuTSQu2uCABIFFCcNVEEDCEPIPEEOUGHMDULCGKLUJDVFIHGhMISBAEURHGRGHHIIJJHt/UGHEBCaQRX9/aPQGBFFOKCKQFBJFDABCFCACESP7zWSGQJNS/UPVWLEKWRKIFTZVCKNIITIn/cZRnT3UKeYUjEHKDJN1rJMMPYVgpWpckVGLQmXCFziXMEFIDBLREHcc/tRLPocUm6UKDLDLfGb6kk/orbBCiKILPWL/mCZrGLT6WKCPkjAAESDCIWFFBEBEGQFCCGOXQMNIGOFCCCHFBGKWKPLEEbIDQXYRGOOKMECDEEMsYFBCCFmEGL/rSUjKEIJbGBCJDADLBAFMQEAEGQ44ageKQbLCLMXdQEGggaKAChfoDNJIjdGY/QGFel/dRaSOMBIJSKKPKPZYPSEJcPOJKNJPRfwJBFRRJSWeXCSjHQTI4MQW0mIHWNRYKGJYdNhXHrzQRPAAQLeULMDKTAIiQgLKEINQNFACGeKGioXHFHCHIRPFHRUZweCCAEDBHDDJGKEHLNGHV2QHKILLDEECPLCEKQEFFHEECGbCCEmROKNEJTMnOFEcHCGLECubZRRFRv/6HKhjRXQBCQZFGNMWgkTCHJTjDHHEvQHeiJECHdabP4XEAAFVgDKNLlQMMLCk/hECFFKNJb0kBBOdUUg0kGHEGMgELHLUjPKGGNYrNDP5aGSEBGXbIPDBkn/aXXEFeBMyYYBACgtlJAACCKHDNWeKSfWdJEIcpeOFHMBBBCFHJHYYMUONmkKOIUDCWIEFFJJGYPBBDFCECEHIDSrFCEDNJJHHVeCLeDRhELKKWT8WHPZSL0ajIHTJEMMEFNOBDFVGSLDMFCfJBMHGoLQJGIPAHHTwE1yJADHGLCMSRyaRQGIYnfLDACBEDQXvGEMVNQJKMkWBYiiBDGUKdSOXQoXKIQvoaIJFBBLnUXHFUdhKJeKNnIgxQIEBAORWMAAFEFKKIMTDE3eUYEBIVPKDADCBHDLSCEOZIPJNO/eJCXCCnSCDDFQSLLBBIDHTCBHTUNLHNNCLMGFGHBBFOCGLQlKDLYYZYTmhOlDGQQaLJQRjIGUBBAdWOFCYEBYBAYINZOEABOYAJDDSCOlMDFHBPPHJBCLGGcePMZlGBEBFKJIRKGMMGVFEVaWIeYUDECFLUMMUHJEAFRmJFVoZPUFIIUECHPEBAFEKRESgLCNMAJGEGMERDAK9iSKCBaLCGIBBIGDDAACBBCFFJOEOCJFFC3mKEKAMqYGFDCDJCDDEHGFRJDFSuYHUUNHEGEGCFAEMGGEV1hRFPgGCOYOMduICFNkslVTsEBJEBBfcMDHROagKVcGKXgNBCQNCMYGSJDGDKFCFSeZOABJACWLHFMcGJFDGKLOIDAGBGNGDOJOEMCOLBBAJOYVKLCBGNRmGALaEPPHFCeFCPIBDFCADECGHDBEPGPHCSqSQDBEkRNMKCSQICCBGOBBCAAINDCDIULHWHMNJL/aSgAAVvXMQaICECLNCFKMLHEDFHNOXRIFJCGIEJCBIJm1uXSTPnoKAMPIEaqdDBQkVece1OEbTEMfQRDOHi/wYXOEOtrbDIXFBZye4XCCEWhEGBTSPDJaDFXRHJRUILAFIPVNDBBIETWNNGLKDMFFNCCDDMpPEPJb/vSoUABAABGWjW/ODbGAEHJBCBCHUMFDRHGENwaYWTSMRDKegPONiJDCGXCGEFBKmaKPLII//SONjYiVq+EHDeREEaZKRDHUIGDEDBBBHBDGPYOIMFSNNIACnX9/IEHOIZYIACDECgNMRLtcGppR/OHUEFMOQRFRJiQLHFDABNeJAGTHDNSJLKECZlsVMDIDKICJKJSZMIELSlCKKNWOGFEPJONLRBBHMROHRjZPMn/YJGGi//JK1GAAADZQXkvLCRLMJCXKCBEPgiFGnYDBQNDhnPSPTPGGFJKCQUGBBZHPbeHRaPHUmZM93ZOMQbXLRsQEBSaKCNhXSJBIQECIGCAGZEHBLGEINPkdYcCC9/lhFGBEMVMCAGEJMaCHPVuVDbdP/fHDFVJELXMTMcQECBCDDEbHACDFECBCEOKDeqaaeDEGSSBGLHSdKGFMX7VEJTgJIOHNTHEFJBAIZwSWJWkIV/uRcCEUVVFCQIADCIxZFNCABdZZOOQHDJSbsSABKoPBBGBIRFLIPVECDNWEBGICBFGGTqNUQDJM2/cQWgQgWcgKCHJCEIMMRNeQBBADPCJRDFCYnLEAHEFJfFVseaKBq4FLNCAIqMFDBRYOKIGOPTWFDbkMtVGKQMJCGLCJNPJEGDDU/YkSBCBCGEEaXeVLSqXWcISDERDIDFV/XYlVNdLAOVKDDPPHGICJNEILXvYcDCxMK/MHYIZPHKJHPJBKDCgVGLABH/zPa8RSJWfDLKBEELNBAEAEIIhRKXMCH/4GBDMEHIGCGdIJOBIGPupaSIPpKLbrNDGQyLDP/1GFAABFQDKHCQDEIGBGGVUHSBIsrMGITVFIKDBJzGCFChqdMCJMMQQIHbmPWZifUKOFLPFZKEGKIGCT/yu9LCACEDESNSVOHRKDHPXBALFFBCL1njxOQlWAUXCBLOIBCQHFUdVXXxvXCCUEF9II2/8SOLPJQHBMGALbNFAFVtNIweLLBCLBGDFSIFKDFBBbcgpgIWIGKyUCGHVYmOBBDGBKLBPIBK1RFDGOCFGKoTGawICO/8CFDELFDEKFO/DABGDlIUJBBLCbbNZYKESREBDCcMBCEdTSMERGJSb3b16pOdsocXOGIttiHR4mIKHW/cd/WCFDGEHNWSRFKIGCEKHAABKPCDPkheUDf2kDgQEJPGFEEILKSKENb5sLCFGDQRDXjTZKTWNDKINKGBIPKACXvbJUzGBGKBFJJBQmSNVVJBBclPNgPcPRSUDCOJSrzTBBECFFDCbtCMeNChVSHGDCpwWsWFBEbgDFGQRPIKEFj+LEHFGSDOCDDgERUQdcFBPPGBCARZGAEqMMJEdGDKv/iXNYMP6jEJLDLq8UOblVPRLp/dM/TCVDBAKWZXUIUKSJJEDBCBQfIGGPfuwFRKFBWLM0JDMUHCEGFBEKSVSEDSHFMICKRCJMNSQDMSjLBFHbJCGQxSj/oBAFTAEEJCFUgnjlOFBQNGaqUQybMUOKIHgr//UFMDMCGFd/clVMGvaKJHEBT47/QBBGbRCFCEMUPYLKgNOETKGIMmIEFndfwpOeFENPHCCJTicCFwGIRNGBBGPWhdMTLGzNCFDBd//JRRGIONGt2OKycShMBEPXQJLLQXhOLDIJqhZeOLEKe1oLHBGBCEH/YJUSFFKPIEVQIXTIRpOMIOjXVFGTQoeLJEHGEaTpHKJKNEq/TGUIKCDMcLFKMvdoJTHFIFQLML/TQURQJEQbqyaJPHXGEUTYX3ROZkIFSUGFUsXnKFERbKEECJgECxOMzFEBJOOEKckLOUKGUhLYIJGKDCBULYmLFZCBCLBAFlKPugbgHCeUGFIDVeVFHHEEQaGMoRIVMOXuPpqpgIJbfYYcVDFKsmYVLSNQg0OLBAaHDCEjiJKPIisoOEHQYYEFUgTNHi/oQGGHPlmJCLVMQp/2IEBOJBfwDJ8LJFCKwTfZGLPgDHLHIEhQCGXJOMOMJCBILJLQhRiaIJIFCRFVZLPIcFEHVWJLGBCJlMJJDMsDFdiiMEGDGWMQKJaobPBBNOMZOFUVOFFKMMiUWeBAAHTKP/TejTJFEEKhdHWHGBHGEFNFLIJXnWIWFCEKlZJHMIFSQGVhcPOCIQPoUZeRL/KOFBTOIFKuQREOFNlMPFGS4PFIFGHFHdRVQONBNVcBEw/dOL/kNCBKHEgPAI6FQNKMXGkWFCHPEBHKPQiRBFDBJLSIMDCDJJOQYJHnGFSMLPVbLJIBJDBOLEBBABHFZLRfHCSJVLepNEFINdKXMJGWUaCCLRjbiP//yKsQePkYrdEBEP/kMVNabGBHLNEUWEbSJEFDGMeSREKobPV3JBFM8IABDFKNKBDFVaQIFKLrWUMaY0OLLDHDPKLJBPGNEACACFcWlOPMBBBCWUMIEFOCRGMBNROPHMYQPCAEIFDAAMUCFIdsOIhdIDHGQIMIJKHFSLEDEECDGCGCIFDBGFGhEBVfafkFLNFGLCACJBAACEmMHDGbICNINJIVwMMNJjJKOeMJa/kTDWWINkyucfuTtMl3qoaONGQDDRMWZDALHVH0eYZagQMEGUJKQPGRIGU/HBHg/ICGCBHEcOEDEBCLLKRSTSJQ//iWSGLFIKLDBKCACABABELHVHMCCEDFwYWKCEJJSFFDbIKKDPSUYWFMGGDCBNCIYJNVR+VyNDGJMGNVDDGHUSUUJHDIBBNHECFCIFIlBEQKQjdEEDDWUKECIBBBDQhEDEDXZEDJPICPrEVIAQTCFmQFPrOnTWSRIbjeIVgSRDLYFQpUGBBCUhO6hEBABFD20/SMJEGKJLCEEGQgTOWgGAFMjWMOCBBEnZRKBBJFFDFNOPLBKSrcJEWUEXaHCbdDRDJCEMOOZGeEDDQDMbldIRIFFYKEYSfGBHMFHfUKEOEEFQEJihGHaoNjMMMJCGLcIOVMKRmmJICEBCUPKEVbYLHlJbeHNPQCCDHIHOKNSPVCCtUEEKMHJCFaXKBFOEIPAMJBIVCAHLARbFMZVPXlLLeQCBINBHLBCBFEbGG/zSKBCDDq//WDMFCFUoGGGIJTqeYrJDJEMaIOIBBLbNMHDMZWGDCDMVXBBLgTPXUDD0YIJQkU0FPLTLVNLEWTECNFFKPPVQDBCOULFa1GLXSFIZbgCDGQHKLBEKCKcICOUeeNGVRNXjLPVmWNITLFGQ7QPHSeYXRXGJZQPJNGLHNKFTZWXzdCESGTSWkEBCOJMdDU4XIWNTCCFNAAGJBEMEfnPIQaPDMsIFbsHIJDQCWGKEPnbhVFHDFfzTQCHODDX8UFkPCItVM2UHGECLDezICQGEJYogVgiJDADCFDJUNvwvYHJWNQQDCZjQTNVJOFFLuSHNNEDCCBDFBCHQYFHq9PbqOFVQU/JKHLIEGHNOGUaGHKO/0WpgJL1SDHLUQKPzdXYt2TFIm8otSSPLaSjvHCLMLIGGMJIUEERPI//rmMBQKJJHBIUbWJNMGDFDDBHNFDFDgQHHBCLMOpfYPOJTHKSBiOoObYc/RCEKDIaKOEDCAEHegM2DCLWOJgVMLDALNy+KBELGEUSQGGdJDCGDKHDME+gKpXEFOiFEAGOmjPVDPLHMjXQKIDCHFDBCBENKSEGKhWWPDERTQ4ZGLUTVUaWkcMIHSODtQHkPDHgGDBEHRLL7PMXXmZMHMngLJHSShXx2GHKRIBFNCBDFBEODHwpWYQMIEKJEABHTjKOjSDMGWJJGMJCCUVHHBAINT6uNHXUUENHFSg/eIFR/FDFIEDQFPpECEVCZgMOBFXObMeTMJDDTyvjGDDMPHJGMEIMHEFNeeKFKC4SEcTQdJJBEGPW/fOiBBDFMZHCFWPBORODBELKETFCBvSUHBEHPSFMEUQJ1ubkmOJIGIKGjSKSJBDFDHFEDaaOSJFWUJHfODUbMJIlWcUlyLMIQIJKTDEQRCBOVeRIbLPjJBThMAADQuKIeQLZVbjGGVLOOejRYEDMHc/gFJnJNGULIMMZLAGZqDGaKBCEDBiJFWwMrLILFHYOLIQMsNRQGPGXYCBHUOUUaLIGEISKNDBPFAbZCGOgeEECFbTe/qaSCACEFMCBQsLCQRFEADHGENEFF0PUIFHNKPEFNuGEbpPWXEKLDHFi/GHWREOCBFUHCGLGEQKKZFDf/NUXSKU/JLIRMLiONGKGFCFeSEEokdWFfaXSPRccIBBLLZFFFMIFLfICMIMm/LEhaHQXPIGHRUjOOWWYGFCGCADt0FMULBCGDEdSRKKQhCCJVQQWLIWcsNNZEDBUoFHLEEYWoTJDBIQICBOPCCCMCCLoYSqPRLKToROCCJTFBMHEfXFHJZBKBBOEIQMIDMCSKBGcLSRFDHAHZWECGCbUBFDWoDBScIbHDLOaODCGIgQLnFFXyPPFMFTlnfJQKFjJXIHGESe/JGPsPGNHCEMHLXLORBCMDICREPFCIkDHQGFU/PGXRmVXLHCDO2b//5lFACCDDDHVoCGFEDBHHNia1aEJfLADRQPMMKSxlgM/PFDRZUMODFOFGHIJCUbMFDyQFHDHJEPeep6hPDGEPLOCIijU//NQVQQFDNAKBDVJJPkIBCHPHADLEMdHFDBPmLVRCBMDHcCQHCHSXEOKLXS2mTJJifEJPKsbmtgJCDTI5oNHGAMKWJBCQfl4FENqLGLJDAMEKNJFrDDJBOHaQPV/aXPNbNGPblVDGnMJDRHMGTD//4qBAGEEIFasfGPDCLTfJbMPNfCLfeELJKMDBDIphWLeaaJNLSFeHJQNIDBjHPYPGGVMXXPYkMXYPZZekRJBQKIHIbx/+/KPMEHEABAQAGXJFVuSDGnVEBCBEVeDIKPfPBgYFEQEXaCPEDXQJDJcMdfYEgeLiMJPMRtUz4LKEMONtUMIMFCFTJBE/sYQPJSdVVSINHuIHBHDHKLtz/7fQFQ/cQJMdMQOOZEABgJABJGRNKBf9zoAAHCJSEOUZNGBGZo8NKEJBCEKgQIYRQNEACLfMCJKEQJPGfIhOXTWvQFVHEdeceVJeORQWNcdaYYyihJDMKJJQVu6VMCEMCKWBAEcCHRfWz3YIa57OMHENUFAFUweKBEGMPgSPMCHRHLQFAJqYYbKBJSKVCIKcMSFVQDGGLUIiPMUKMBBSQIdodlVXJTJHRuSRHlTBAHFHLS///cTHGLLFMNbRJNaNRUaQ4WBCFMWIIOWzzdAAEERcNFIcHABGBLduLHZHLfSdUXrYmQEFPYRQCOXISKsViOXNgzdYFEIHCWbj6aPfbKCFgjWvv+kCSSCKQLEysmTJBBNXDJbKESMKOU3sz/RDGppHYFEUVGBDUjNHTPKRQZWMVFOWFFWKBNWhGKRKVPVpDEJZLPJJIJDBDtLHLDFIMBAiCCPOe/kRJJDGESLIECCADMBEFLuanRaFLLDHQTZGILwKRs/r/nVN/osad/YONLCETMKHGFLYFGKLBBBWSKQh/9OibUgTfIDSu7sbFPHROBWc/gbKPxVbEGCCGEGTdbWjmMBFePJgYTSFKeLMHUJ0hMFDHJndFDSlhKBHYJU0pZMBBNMFQPITWJEGigNNsbVPYRPQqKUGFHkdQTT1GSNMVMg3KTcOLFGLNEICBcfBDEGSvJBeBDT06uSOUKHGAGFEMBBELEDKCHTRkloLRICLQfGAEPfIHP8i62vJytdOcpMBDDGOZGDCFCGJUVivmEBJJFNpy0HacGFSNGCh/hvUJECJKCPo/PfeKiUoYLACKEHSkrOMOIQXQHHTFCKoYbVHFWMPIFHGHLeXLBFn5WFU/VINPJRECEOQReWJNLELusbLLRxRDOIDNEKEEDISsXGfGYZaFFXLPc/OSEDOVMwMES9KACEW8GBGHNK/5JETXLOGDcGFYIBECAKxLJKTjm/mNIFHHXDACgaVQj/cYtoXQucOHLTEOPFLEIEAFBEK/rd//yIIRGFOLjJM/uhnQJCZlGTPIDDEFNZ1/PdPHZeaKDBJLEFbtaRJQHyVNKYpDERZfXaHOkOSZdFFGROCBBDLpcKKPdGBEEMeUTcPcYQFOUHbvxmVECXIAGOEQHXZKOFDNZMIDfhIBBJMbX9ZQDJFSLhLIV6KABE+rBAMhHCvaMKx/tRFdtFMfGAMDCUkLKhVNg/RCDBFGFCADWPJGb/lT7cXKbLDEbaIMXBCAEHBJGKH/2V/7xMNUJJFGpLM//20jHDKHDEDCKMIELJY/3mGJeTKDBIhdGJPLDN3yfhJONYaEEXPgznPRiNcQhDJVeOBAHIFxKKDCIHADBO/o/lVkVRTOLOPKRWTLFDDBCec/ECqPWMDKmYQXwdKBBCEMXSJBDEBGEbiPx/GDBCuNCEjwJFRVTc//1YDMiQomBALIWfTED7/fIcGEAACNNdKHPIACj4dIhjNKFDGTpPCBMNDCDGDGUQCTvdctYFDHNJEPvRQ/vchdLYfFAGGDMUNGcZRwvYHNnvXRDHKcOMCBBR/bdSWRble4MOJQXjXHcYVDEEKXOWLBTJDiDEICBEEWGouo8gb/hoVKFKaOLTHDGCCGBVTuHAqXJPKuNIR0/KHFPECHJJGERABGHObVktCGDADFLTxYLMKcVOrXMeFFIDRjFBHOLEKJM//qINPQBEIpSseKXVCDYthIUPOODGeUgxBAIVHhSIEFKFBDksMZFCIOMOd//ZTcWOrzegXDBO3QHUNJgnXW1KH//idgBBDTPUEDFUaGXNVNy/voQHJ4OKbRaZFFGRSiKM7LcPKPDBRTEHLjXUHILbR/ZYGRXFihkXEABDDVYNGORCihDZkzIDM0/FLKMGJkHJJIVDCEJHFHMFBBCBFHeifHMUOWKDUSEYVIBEVSRCFhNRNFfkiljTJ7iYYyngJKLjPGMDPRrI1pFJaJSZCBDFFbcPUCBHFOpNLaEEHPFSk//VHIZUSGjkJDRNsTKPRPLThZbGG25U+fAADaKUwoFJFIMPkQq/ZGOOJ/mSbeJpaZRaFPRHpkxSpHBCHsfaZYnUOEHSi9o/LIGEPRhaIFBEJk9RGKkEP7WsePSJh/UIMZRHT9dMLIZYQSgWUFHFNEFHNMQuHKQdJEEDVXFasdFGZQeACeNiYFHCcu1rM1mHSXdNHFFRVOsKGOlzvxWHDHUVEMSJMRQICEHDJHJABMQQIWHRWu3fIBKMGBgZJHcTPPePHMJReaLKDTMP/PBCSMHKTxnqVLIR/hP5VMbOGOwij0io//LMBEbTVeWS5BADId6qXMjYcGMJ9n1/YTNSGYd3VGOFFVoXCELLf9WWGDiuebRUIkWJKwtTXTeaqNLG1eaMmULLX/L8IlmxNBDDQjYfMiOFKH/XNPUWQIOEeQ4/MRVLcJQCROSYSajrcRLrLERKBRbXUjQGLW/lESKBYSIBCDDHVQHEGZ7RFBFJCJedXRfKBBSXALIsMECYHUXRZCFFWkMKKf//iEFS/3MokfWCGLjTbi/a/5MECGYNaOWeuCAOTItXIHFX9xWMVEdfddmTJPJbKBPCBRnTFLJgdXLSLETjYYk2gzbOI/JXhVJLXEVFXxXamb6TV//oGVdSWDKOcq/sQZRMuP6/dHJZOJKLMM//aGNW/oOCnlaLHMFQifDOIMVJGecIh/GAEZ/iGdGFWgaMbOCN4gNDFSvLDNRUCTGPzkVEABdcBHDkSCKVd0/gRJQER/UWIU+/OBDNijVahOIECGTGGQpPSXaJHTVCUn85sQFcMCDOcJEIn/cPICIJJEOIJFEJGFrTBPhHHxWUQJHVXSVKNbeZyQJYNOAUiODIYLqFDKGQBTcRX57djtuUOOgliW1aaLOOVZi/NHXwSIDMOe/rcIFKq/TgyYNLDIHVjLAGGbaBK2/EO/ZIZfcNPoGKQXeVvlDFxQKRLKTFBNUGCJACYqTEACJGCDCjSHaxmxn6/gHEa/lKGFWgDBKLOOqqFHHdFBDKLeHIOOYKWlXHNh0kUdVRKDBljDFNR8WdZUOKKDaOIFCMJIZpFXeADYJIGJJOZMWHFogfwHCiRFHiQJBEOg1BFDBGAJCJKLIHDQkTKuafzbYIahkeEMd+mTdpkMOQc1uMHLMOVYPYHNNQJVSe1VEWd/jBCx/EKqQVrXIGHjQHJHESYiFBJFPpGKafJPFBENCJY//PADENMEEjMGOcTRn//YNbv2dRDHJJDNoQIKg/BHEMYDDKEXbZIHIO5lRXUHaMSKLMDDNwRERYLdaeUaU5pLtSOFBOGHGxSmsAEVLGOtYMTJICEg7fbUHUQHZtcVBDO/bALJCIHONOSKDCBEQSQbZKXuUHYbUeFMXwxEDCcKPViUjcOGVWifXHCrUYZemUo3RYu/5DBalFPNCHRkSWCUkjWHJTSxeIYOVVLaXgeXPBKJHDE//jCCBLgMKhFCHJPQg/y3/jLXfOFKDJKMZPPFEmFHKR2bHPXdggBEMi/hlUPILQ2OPmxQktHFnOSUXQKCDscjhSUdOfNIBz9SKBAHCGWpWBGMCADS/PDSCEFCQTZFAGdgNBGMJY/zLITJJCBFDKSNfEI/ncrQOSLELssCBAJNHMXGU0XDDLbcMSO9dZQadsrnDKh0UDHPKTZPOKJfkmFZXnqJVRW/+WXFKXJPUSeVuILCIIHYGShDFCPlZlRSLFIYpmJ4/mJ/yEIIEewaOEGELhjLZRSUK3//tWDWjerQpGDHEMzROZ/LXxSRiPZMUNOEBGCKGOaaOWybQbiTIDAHEGJFTGBDBANS/nILGJFAXpEEHLUQHBBN//6dKSbLTEHEBEMQwdO6alWGKqFDHMlWIBLJDIRNKiNHACPUKXIJRKIVUWVIABRnOCDRGk/8xWOhbcTZUXaBNOaTUHDECFABKUex6eyENo2/EKyMkGCGPdareDDMxRDTlqY/YNKDKQ//dFBCJquQOORLLP1rZHD4WQREKAEYJGEYQHfILnoPPaXHNJKWJLBLDeaKQSfafJGOaWIPQFPHfRBCMLxVvrPIKYZJz/EfODUQBABOwzDEi//TPRZHHIJOguSTZWEDLTCNFDegGCNULHI2MJNhGELRTyCBNECYxNROBBY5dEBEGLse6aczhSRTWodDJQUPgaa/EABAEY8idk0LDIq/TDWQcKABSRTWUDGN/oXTc4//LSHGeOUkRQDBDenQJDDJYKVqMDDegUSFGAMuSGDtaPPg/kZMCLYEETIEBJBPUhnKpSMZNJCHuNCGCHon8oDG0w/Ml6SKOjTFMeOjJInVBCDVSbOMl8/oTKKUkZOnk5XCIGKZ/bKPFWeaFEFLOHY+/XIdRQLEWjDKcIEQWJLTHEJsWODFKPMhiZNTWhUKIccSMIXRbsf/GADAD4/KSZQRCCLzVGoMHDAASIOMOKSX/lvLLX1/jDBJzQMNLOEHFLRNICCMXXWXjFJqzRVUKDW3xLKbNKMl/ZMMBESCGaGDAHBQhVsQaCCGMVMINAADBGSW5ZJcvNSMaxpMJNEFCPISmq/9DIW/VEuSR0/2zOG+7LGcx/JACbpf//ZLPmdv30MGKN///NCXLDbHVGAZ07YNEEFEJeELKxZbSvcpSxEDGwYENeXJPaeKrtQeHEGCK/gEHUHTLEIaHPVBCFOM8sRMZWkaVXeFGTgY6CBCGHYjLHJPCEDVRIBeQjZGVTl/VLDFOKJ5/EGGDCQw/WOQJNTF9/TXDBBVQMjveBFDIFIMIBIWHFFPldLMREHVZpnsaKBDDWHKrXtbXc0/kBSUHYSZVQMoufMI5/ZBD/eFZ4fFGjYr//aJOM8/vDQZTEsObCCXm/YJFLNDelFJDXoVRt/wJCBDWadP5mJCQ/hX3WKPMWXfQXVHHaDWqfWTDtmETaNQ//dYWJnNFGTDFywbHACCKPgSMIHEHFDbQRJth/fABTZgINGFMRHohCIEFPhemDEokSKG/xcTFBBHFPJS3FPDACSYHKo/jKHX6/tGRYWOJNMXmHISHHCDTJBCaglp2JwLCYTMFGRnX2bL9mrGEYMJPr7OC7hTnPQEMix/iCcfpILGZHRaT0IFJilFotFTNWRNTv2VCABJgaty/yBCRjaueCLYNWu1JFOIFIGXcTwgG/0aSjJHT+2KKLfVSIIIVZIFBCHMpXsQEDEFeNDWGU8///oABNmeGCGSVFDQfHLFOPq2VABufKLORQPDHnjIBIGMdDrYAG4RCIITZQJIpisKjuKBClYMLGPVNPLDESBCIadSTK/EU/dRGFIir0tKsKWFCUMkPf/0O/gfeGDGN8//dBQ//OSHGHMWJJFCFbGEujBKaTU403byZNMLeY3//gAOSQz5oDLgYQaTTWknXFIIVJWbWv//UaGKf+/uf/v//HHLfNJUFJIcnDfOMCESjUBMIm/V/zMLBNmYJGYcZEAKfFKLMG6/XBAREBMRHR/VFnuRBXhfZFb8FW3LCNNRkOMHYDBJ/ODDGqeOGFVamnTBCyHCJlSNMD/Kx/NKJFEh7jhS//6So3VtSe/ZQgO/sTBicgXliBQ//PQXIHRiJCENPNKWTDIJUTo0/aFLap3kqNr//NCnRHd/3hNsjPPl//cx/bPDbJFPTmwxHELdk0///+///MMOwhq/VDIGRCrTTBRid3ECM/VN/QHOCHRIFZ/2h7PlgHfUhM2/tBALBBMvVN4lLgYlR70nxfEcEPqHBOaZiJNcOCHd/STUGMgmUMQxkk/UVWKESKCCHE/cb/NCJFFMgPHk7dmK3iseJWPETDa/6sDhhHAFUBc0eCDNOLHPVPFgyHkZCCXICf/U/zXBJS//kDX/QgfmWIQzkpNTylFs/7sbweZgkHDRKTYOLIjdJo/fhNRap/bnovhbTIPCEFgmVMurgmiER/IP/eVLTGQTf5/4r/eddEVo/wWhoBDVKDR/8RhNEeNlYNkbXYJLOhtLABCGWh//GCWiq2/1PHHSONKTLPpdoQmNcKEGDXXMK/gBUUQGJEIRPGSnnb9cVVMFQHaimQFgNECIPHJCBFFGhoGRj/ibjKlMCMZFB4/l6kUBJESbYJfwIozpUOTaMjEIQNCjr8uQKXq/wIN/5UlahovRc4uVYGP8/4e+ndSOTVdNpgjePWFM0YvITWMX/ap/9XUl/7/zobEK4MhhyhKXrCJmpEr7/QSOPiIKPVfYJMIRG0UICKJLPX//NAIUPZbnYIBCGECBBflkqHLBMXxeRZHpseXD//bDHFNHJHm/mO/0ZYNEUWKPdEFvRJFMIaUBBNOO2xJ/y/6//jKUFEQGCGW6sMIBFGDNSRr//Wa/ebVfgdCDJYDhDPeOEk+8pMRv/e/nu//h3/OKyMh//pUd//piKOdU/7dRBEACflYOka5/rRo+/sMOpsNRdgIOVNOcXZW1/PGFTNphSDPUWskPeRRcMpZ2bmEBFkxnRHU/jCBHGZOVWJDELGJBB+16+FEBCQ/WVFf//fPQ/yMDjQRrmj///EGl/UbJfQJIXEXshbVkPLNDJ08//pKygOb//kBFNKSVJHEmMACCHzJbYgk4/UhTSbTd7ZCBDGCLFgwPNWjOeaLOag/kc//gOYFkxWh//nZN//RqSEEM//HDDMBFMumx/w//OMPg1bHRuYFFVkDJERc001M5/KECGRWIERy0ig3b/IQ/mei2/gDBJ6//GDUs/aDTNKJfYLMHcmQRT///yFHmHJsXMLDKycGbhZZCpOZ4Y///nJBJ/ZzxfZdOXJu7eUtjhbbjQz/VzOSfjCUtiIABQbxia/tfGACTU/aZ//1t/h4bERRr4yUHUDDCr9kLFOhOVXHEHT/ZN//0KFE49QPpkKLJIJW8/pNJijEDGNGKE42////SOdZSlhKp6LHDN/HGTp1///if9JDIUbFBBYPxeGON/Vh//1bY/YIVNy//SaWZ//c3RsVJXy+HR/Prxf/3OCK/bfwQKLAI/bRfKY6LKqmkWqj/gYZGv//8Q//igLMVGiXDHe/wFurCTQk9oCMWcXUNfhdKMcVXQMH6wkiL///R1qnlDiIKH9bGtcKCR/ZPQkPkcWJISIWMUu5sRHBY6LEaWEFVRL1///uVZIcXOTWMFSQ///mHWfZP//nYhRGFORUGaXWj4/nRrSG5/3FCBJDPXtscY/qnphlUaGP/hJUUDLGEJOS4j//jUt4NV/+/jVNrIESQf2KCMEAD/bTZHU//g/PPlaSVXP/ca//9Ov/KMBCNItHBBDHNE0vPfy/5gKBOr55njlEAFMGodoT//jfVX//foj0qJbSUFrRd/xPIERPST/0yXpEHwSNIV4zx7LBPkGKtaNTm+/eeP29NpETNCUjRDLUes//MTV/q/s/TKHDEQIXKTSVJcxZM8/X1/mGUFNLJr//WL1pybmzMCVvwJCNDBBTdbLUSO//cpWNQSfdyMeSqSuUY2aEDOFDEKH2nIO//+eJF0OMSUO/aBIt/gDEGFCHSKmYCDTIaaZ//7//5dMBFMt5GFjNFP7f/x/Wz/sffDHu//qit64nrNgb//1RREEZ4c//wZ/VK//QNZyt/pPGLVVZRCN5cK/dSY+jFVHGJCPNRH1/10//btb/p///SGBBIpMTbbPOKGV8Zx4owUOItmcm/+9/IUsPuh//FF/9oJNdPLLp/5O/tHn/CYYLe/7QJGQThS7dlOKCBIgRNVL2/dOpmaTpa9WLaSDWgCNe/uHEPVg9oL5ykU+gosd////////6HCdyiJHa/QZZ////v/xZNCHZ/6YePgy/gDI1/fZV/fZh///YHfxaO/0QeY1u/+/y/FhTVFe/JBLOOSONccZXdNR/q//xf1//np//N///YCBRt/VqibVKFB1///dEDCCJ6s///ZNLX//IS///h3/VCDYVDLJi/TS36KQGA2/c///RHIGPVj/voGNUJl/pa/VFYpTneEu/xYsptUN0/hXT//fcbKQ/fvgs//sVuV//Z/RTs///1Mz4UOIY/cED///TL//YMEMTe0d1grEt6IGwagaY5Wjsc/wgRsHKO/QHtZ/ZJp/7ZBEInb//cOIFHLnIknbj/mV72//VMQ+/bP//O/y9/PBT6///4pNCCV/e//IKMMccz////0PI//////V///YFAFXHgjHK/jX/MHOBAOmq//bECRmNQ//k0La/t///jXNGOFtr7HPf//42Naj///up//bz/kX5SaK0SrOW/ZydEPLab/6n4jj/SLqa7fRi/wRNV//RRw/aRdXnbwd//IBgYs//y7t/psu/gEL/Y/tGrt5XFRJLDCEFFT//9aLGIV//13RivcEPe/oPpO//LF////p5/gCC//h/skWET/dGTTT/ug/3r89tNXni/70//6er//mWNh63///h//l/BL/JQVTO//xSC8yq///eu///O4l//Z/5THPNx/Q////qEx4/////0/////dcbBB/NSfi/TQb6p4/X//O17w/t//cCZ///uJ7///fU//TTVZYy///EEK/wL0wt/0PRnw/iC//s/6S//27//DIMmsMF////rOEEN//0///iFEO+/R//7//RDYm/u6//uCB//EKj//j//KES8x/wn1//w/ln/uhRWqj//cx5jW////////h/cc/AO//xcqcu///KvLe/8hk////dXtMUv//1/CC////2t//a///r/T/b////aT6rDS//5//wZR/Zn//d////3/TS//WE////eR8/sLVPs/NY//t//ccJIy/zJUQ///LS///uJ//W//2/ure//Pzlv/V3/////PBEcCUGU//hLItf/i/oz/moaYTlu/3//Re/sLTl/81//iOVzFS/7n///////nJRKKV//EchTL//q///JgJ/Ua/Wg//nic//////37U//ja//////uqRhYX//FGx////e/////lY/h3P//////7Zl/Z/CU/////JQ/0d////1XMh////////dTa/xCuNN//8/3///YL/d/5Yy/s///X///Y//r/V//ciESu//hNg2//////P/EBK/AKK///txBcI/W/4////wt/7//ss////Bw//////////QAJ/v/////hJ////u4z8TJgstp//////CGDVEmR/+/7//////P4//////zq//////R//PVK/v4/m/////qk//uhOp/gN//////p//sNLBk////Xrlu1/cl///e//////n////////K//o//xj//Vj/L//tMKf/x/dty///i////rqXK/////x/FLd////////LSjiCE6///d/V/RpT//////Qp////////kBC///V///////oKu////6/uGB/////9//JEV//////S/wRZKCCvRvs/x//s+//T////+/////////UQ//o//////Uw////////p/DV//I//x/////c/KAV/////x//e7///y/////////PQ//////////p/od//ja/////iCdc/////nM///////cRN////////ELH///L//////zTOJ////////96///////7//////////CM///j////j//////////osWV/////////m////////ip//pMf9/d/////g1//0////K///U//////////////////////////+/R///B//////0///QAT////lX///////////y///////////////////////////////////////zO//////////////////i/S///p/////////5//////////////////////////////////////////////////f////////////////////////////////////////////E////////////I///////////////////////D//////////LB/////KV/S/////////////////b//W/////////////////////////////////h///////////////////S//////9///J////////////////////////////m/////////////////////3//b//Ie///////////////////////////////////o/K/////////////////////////////////////////////////////////P4///////////////////R////2b////1//////////////////////B2r///////4////////////////////E////////////////tM///////W////////////r//////////////t/FJ/l///////////////////////////////////3////////////";
var p=[62,38,168,64,42,180,66,46,192,67,50,203,69,55,213,70,60,222,71,65,229,71,71,235,72,77,240,72,82,244,71,88,248,70,94,251,69,99,253,66,105,254,62,111,255,56,117,254,50,124,252,47,129,250,46,135,247,45,140,243,43,145,239,39,151,235,37,155,232,35,160,229,32,165,227,28,169,223,24,173,219,18,177,214,8,181,208,1,184,202,2,186,195,11,189,189,25,191,182,36,193,174,44,196,167,49,198,159,55,200,151,63,202,142,74,203,132,87,204,122,100,205,111,114,205,100,129,204,89,143,203,78,157,201,67,171,199,57,185,196,49,197,194,42,209,191,39,220,189,41,230,187,45,240,186,54,248,186,61,254,190,60,254,195,56,254,201,52,252,207,48,250,214,45,247,220,42,245,227,39,245,233,36,246,239,32,247,245,27,249,251,21];
var A="ABCDEFGHIJKLMNOPQRSTUVWXYZabcdefghijklmnopqrstuvwxyz0123456789+/";
var c=document.getElementById("hm"),x=c.getContext("2d"),im=x.createImageData(240,131),d=im.data;
for(var i=0;i<s.length;i++){var k=A.indexOf(s[i])*3;d[i*4]=p[k];d[i*4+1]=p[k+1];d[i*4+2]=p[k+2];d[i*4+3]=255;}
x.putImageData(im,0,0);
})();
</script>
</body></html>
